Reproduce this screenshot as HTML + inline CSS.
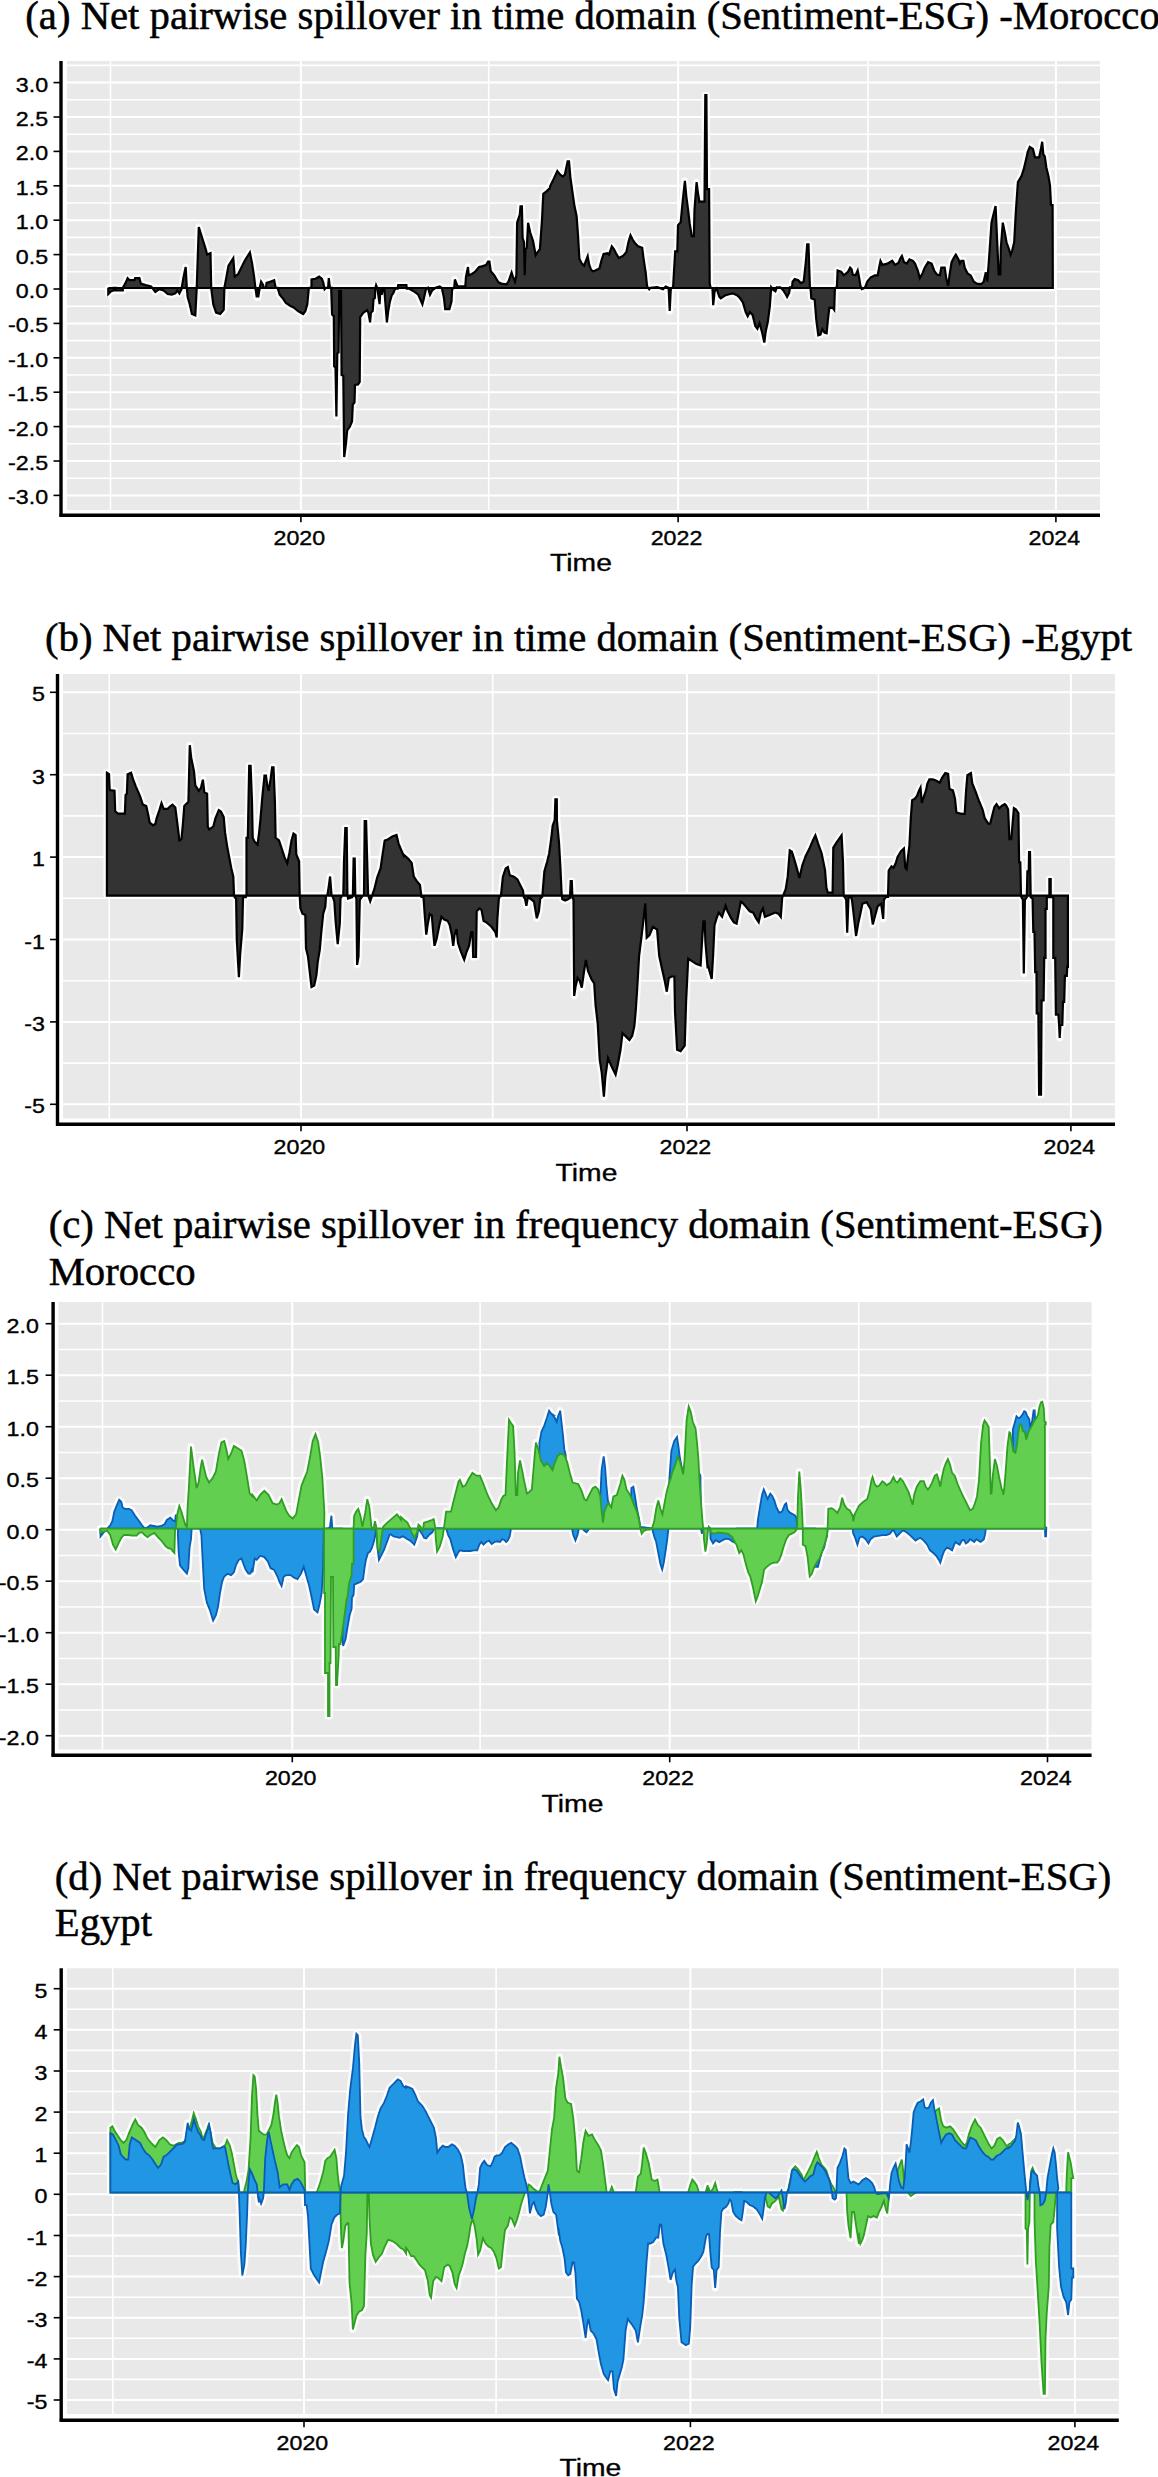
<!DOCTYPE html>
<html><head><meta charset="utf-8"><style>
html,body{margin:0;padding:0;background:#fff;}
svg{display:block;}
.ttl{font-family:"Liberation Serif",serif;font-size:40.7px;fill:#000;stroke:#000;stroke-width:0.5px;}
.tk text{font-family:"Liberation Sans",sans-serif;font-size:20.2px;fill:#000;stroke:#000;stroke-width:0.35px;}
.at{font-family:"Liberation Sans",sans-serif;font-size:24.6px;fill:#000;stroke:#000;stroke-width:0.35px;}
</style></head><body>
<svg width="1158" height="2477" viewBox="0 0 1158 2477">
<rect width="1158" height="2477" fill="#fff"/>
<text x="25.3" y="29" class="ttl">(a) Net pairwise spillover in time domain (Sentiment-ESG) -Morocco</text>
<rect x="67" y="61" width="1033" height="449" fill="#e9e9e9"/>
<g stroke="#fff"><line x1="67" x2="1100" y1="495.4" y2="495.4" stroke-width="2.0"/><line x1="67" x2="1100" y1="478.2" y2="478.2" stroke-width="1.6"/><line x1="67" x2="1100" y1="461" y2="461" stroke-width="2.0"/><line x1="67" x2="1100" y1="443.8" y2="443.8" stroke-width="1.6"/><line x1="67" x2="1100" y1="426.6" y2="426.6" stroke-width="2.0"/><line x1="67" x2="1100" y1="409.4" y2="409.4" stroke-width="1.6"/><line x1="67" x2="1100" y1="392.2" y2="392.2" stroke-width="2.0"/><line x1="67" x2="1100" y1="375" y2="375" stroke-width="1.6"/><line x1="67" x2="1100" y1="357.8" y2="357.8" stroke-width="2.0"/><line x1="67" x2="1100" y1="340.6" y2="340.6" stroke-width="1.6"/><line x1="67" x2="1100" y1="323.4" y2="323.4" stroke-width="2.0"/><line x1="67" x2="1100" y1="306.2" y2="306.2" stroke-width="1.6"/><line x1="67" x2="1100" y1="289" y2="289" stroke-width="2.0"/><line x1="67" x2="1100" y1="271.8" y2="271.8" stroke-width="1.6"/><line x1="67" x2="1100" y1="254.6" y2="254.6" stroke-width="2.0"/><line x1="67" x2="1100" y1="237.4" y2="237.4" stroke-width="1.6"/><line x1="67" x2="1100" y1="220.2" y2="220.2" stroke-width="2.0"/><line x1="67" x2="1100" y1="203" y2="203" stroke-width="1.6"/><line x1="67" x2="1100" y1="185.8" y2="185.8" stroke-width="2.0"/><line x1="67" x2="1100" y1="168.6" y2="168.6" stroke-width="1.6"/><line x1="67" x2="1100" y1="151.4" y2="151.4" stroke-width="2.0"/><line x1="67" x2="1100" y1="134.2" y2="134.2" stroke-width="1.6"/><line x1="67" x2="1100" y1="117" y2="117" stroke-width="2.0"/><line x1="67" x2="1100" y1="99.8" y2="99.8" stroke-width="1.6"/><line x1="67" x2="1100" y1="82.6" y2="82.6" stroke-width="2.0"/><line x1="67" x2="1100" y1="65.4" y2="65.4" stroke-width="1.6"/><line x1="110.5" x2="110.5" y1="61" y2="510" stroke-width="1.6"/><line x1="300.9" x2="300.9" y1="61" y2="510" stroke-width="2.0"/><line x1="488.7" x2="488.7" y1="61" y2="510" stroke-width="1.6"/><line x1="678.1" x2="678.1" y1="61" y2="510" stroke-width="2.0"/><line x1="868" x2="868" y1="61" y2="510" stroke-width="1.6"/><line x1="1055.9" x2="1055.9" y1="61" y2="510" stroke-width="2.0"/></g>
<path d="M108.3,288L108.3,287.8 108.3,294 111.1,291.2 113.8,290.5 113.8,287.8 115.9,287.8 115.9,290.5 122.8,290.5 122.8,287.8 125.6,282.9 127.6,278.1 129.7,280.2 134.5,280.2 135.2,278.1 139.4,278.1 140.8,283.6 145.6,285 151.1,286.4 153.2,289.2 155.3,291.9 159.4,289.2 163.6,290.5 167.7,294 171.8,294.7 175.3,293.3 177.4,290.5 179.4,293.3 181.5,289.2 183.6,276.7 185.7,267 186.8,287.8 187.7,297.4 189.8,304.4 191.9,314 195.3,315.4 196.7,288.5 198.8,227 202.2,238 205.7,249.1 207.1,254.6 210.5,253.2 211.2,287.8 213.3,304.4 216.1,312.6 220.2,314 223.7,309.9 224.4,287.8 228.5,265.7 233.3,258.1 234.7,276.7 238.2,274 245.1,260.1 249.9,252.5 252,262.9 254.1,276.7 255.4,287.8 256.8,297.4 258.2,289.2 258.2,287.8 258.2,297.4 259.7,287.8 261.1,281.6 263.1,285 263.8,287.8 265.9,287.8 266.6,282.9 270.7,281.6 274.2,280.2 275.6,287.8 277.6,287.8 279.7,294.7 283.2,298.8 285.9,303 290.1,305.7 294.2,307.8 298.4,311.3 303.2,314 305.3,311.3 307.3,304.4 308.7,289.2 309.4,287.8 311.5,287.8 311.5,279.5 315.6,278.8 319.1,276.7 321.8,278.8 323.2,282.2 324.6,289.2 326,287.8 328.1,287.8 328.8,278.1 329.9,287.8 331.5,287.8 331.2,288.6 332.1,314.5 333.8,316.3 334.2,366.4 335.5,367.2 336.4,416.4 337.3,353.4 338.6,352.5 339.2,291.2 341,291.2 341.6,375 343.3,375.9 344.2,457 345.9,444.1 347.2,430.3 349.8,426.8 352,421.6 352.8,404.4 354.5,402.6 355,384.9 358,384.5 359.7,381.9 360.2,317.1 363.2,312.8 367.1,310.2 368.4,312.8 370.1,322.3 370.9,312.8 372.7,311.1 373.5,299 374.8,298.1 375.3,288.6 376.1,285.2 377.4,288.6 379.6,304.2 380.4,288.6 381.7,294.7 383,288.6 384.3,288.6 385.6,305.9 386.9,322.3 388.2,311.1 389.9,301.6 391.7,295.5 393.4,293 395.1,288.6 397.7,288.6 398.2,285.2 406.4,285.2 406.8,288.6 408.9,288.6 415,292.1 418.3,294.7 422.4,304.4 423.8,298.8 425.9,289.2 428,287.8 430,294.7 432.1,290.5 435.6,287.8 439.7,286.4 441.8,287.8 443.9,297.4 445.2,309.2 449.4,309.2 451.5,301.6 452.1,289.2 454.2,287.8 454.9,279.5 457,285 457.7,286.4 465.3,286.4 466,276.7 468,267 468.7,275.3 470.8,274.6 474.9,271.9 479.1,267 481.8,266.4 486,265 488.1,261.5 489.4,261.5 490.8,271.2 494.3,275.3 498.4,282.2 501.2,283.6 506.7,284.3 508.8,280.9 510.2,276.7 511.6,272.6 512.9,276.7 515,281.6 516.4,275.3 517.1,222.8 519.8,214.5 520.5,206.3 521.9,206.3 522.6,238 524,242.2 524.7,275.3 525.4,249.1 526.8,247.7 528.1,222.8 530.2,232.5 533,240.8 535.7,255.3 537.8,251.8 539.9,249.1 542,220.1 543.3,193.8 546.8,191.1 549.6,188.3 549.7,188.4 550.4,185.6 553.8,178.7 557.3,171.1 560,174.5 562.8,176.6 564.9,174.5 567.6,161.4 569,161.4 570.4,177.3 572.5,192.5 574.5,206.3 576.6,216 578,235.3 579.4,258.8 581.5,263 584.2,265.7 585.6,261.6 587.7,256.1 589.1,264.4 591.1,269.9 593.2,271.3 595.3,270.6 599.4,268.5 601.5,260.2 603.6,254 607.7,253.3 609.1,254.7 611.8,246.4 613.9,249.2 616,253.3 618.8,258.1 622.9,256.1 626.4,251.9 628.4,242.2 630.5,235.3 632.6,239.5 635.3,243.6 638.1,246.4 642.2,247.8 643.6,258.8 645.7,272.6 647.1,286.5 649.2,289.2 650.5,287.8 657.4,287.2 663,289.2 665.7,286.5 668.5,287.8 668.6,287.3 669.7,311 670.8,288.6 673.1,287.3 673.8,274.8 675.2,251.3 677.3,251.3 678,225.1 680.7,222.3 682.8,200.2 684.9,180.9 686.3,196.1 688.3,211.3 689.7,223.7 691.8,236.1 693.9,236.1 694.5,209.9 696.6,182.2 698,193.3 699.4,201.6 704.5,201.6 705.3,95.2 706.4,95.2 707,189.2 709.1,189.2 709.7,283.1 710.4,287.3 712.5,288.6 713.2,305.2 714.6,291.4 716.6,288.6 719.4,296.9 720.8,298.3 724.9,295.5 729.1,294.2 733.2,293.5 737.4,295.5 740.1,298.3 742.9,302.5 745.7,312.1 747.7,316.3 749.8,312.1 752.6,314.9 755.3,325.9 757.4,328.7 759.5,323.2 762.2,332.8 764.3,342.5 765.7,331.5 767.8,321.8 769.8,306.6 771.2,287.3 773.3,290 775.4,291.4 776.8,287.3 780.2,287.3 783,290 785.7,294.2 787.1,296.9 789.2,292.8 789.9,287.3 792,287.3 792.6,281.7 794.7,279 798.2,280.3 800.9,283.1 803.7,281.7 805.8,262.4 807.2,244.4 808.5,244.4 809.2,266.5 809.9,287.3 810.6,288.6 811.3,298.3 814.7,299.7 816.2,318.8 818.3,335.4 820.4,334.7 822.4,329.2 824.5,332.6 826.6,333.3 828,318.8 829.3,307.8 832.8,307.8 834.2,309.8 834.9,288.4 836.9,287 837.6,270.5 841.1,271.8 843.9,275.3 848,271.8 850.1,267.7 851.5,269.1 852.8,274.6 855.6,275.3 857.7,270.5 859.1,277.4 860.4,285.7 861.8,289.1 863.9,288.4 865.3,287 867.3,281.5 870.8,277.4 874.9,275.3 877.7,275.3 879.1,267.7 880.5,260.8 882.5,264.9 887.4,263.6 892.2,260.8 895,264.9 898.4,262.9 900.5,258 901.9,256 904,262.2 906.7,263.6 909.5,259.4 912.9,260.8 915,263.6 917.8,270.5 919.8,278.1 922.6,273.2 924.7,267.7 928.1,262.2 931.6,263.6 934.4,271.2 937.1,274.6 939.9,275.3 941.3,267.7 944.7,267.7 946.1,277.4 948.2,285.7 949.6,274.6 951.6,262.2 953.7,258 955.8,254.6 958.5,259.4 959.9,263.6 961.3,260.8 963.4,260.8 964.7,267.7 967.5,273.2 967.5,273.4 970.7,275.4 973.8,281.7 976.9,283.7 981.1,284.2 983.7,281.7 985.8,272.3 987.3,281.7 989.4,253.7 991.5,222.6 993.5,214.3 995.6,206 997.2,242.3 998.7,274.4 1000.3,274.4 1000.8,248.5 1002.8,222.6 1004.9,233 1006.5,242.3 1009.1,249.5 1010.6,254.7 1012.2,250.6 1014.2,242.3 1015.8,212.2 1017.9,182.2 1019.4,179.6 1021.5,176 1023.6,169.7 1025.6,161.5 1027.7,152.1 1029.8,146.9 1032.9,149 1035,157.3 1039.1,157.3 1040.7,150.1 1042.2,141.8 1043.3,154.2 1044.8,156.3 1046.4,167.7 1048.4,176 1050,185.3 1051,205 1052.6,205 1052.8,284.8 1052.8,288Z" fill="none" stroke="#fff" stroke-width="7" stroke-linejoin="round" opacity="0.85"/><path d="M108.3,288L108.3,287.8 108.3,294 111.1,291.2 113.8,290.5 113.8,287.8 115.9,287.8 115.9,290.5 122.8,290.5 122.8,287.8 125.6,282.9 127.6,278.1 129.7,280.2 134.5,280.2 135.2,278.1 139.4,278.1 140.8,283.6 145.6,285 151.1,286.4 153.2,289.2 155.3,291.9 159.4,289.2 163.6,290.5 167.7,294 171.8,294.7 175.3,293.3 177.4,290.5 179.4,293.3 181.5,289.2 183.6,276.7 185.7,267 186.8,287.8 187.7,297.4 189.8,304.4 191.9,314 195.3,315.4 196.7,288.5 198.8,227 202.2,238 205.7,249.1 207.1,254.6 210.5,253.2 211.2,287.8 213.3,304.4 216.1,312.6 220.2,314 223.7,309.9 224.4,287.8 228.5,265.7 233.3,258.1 234.7,276.7 238.2,274 245.1,260.1 249.9,252.5 252,262.9 254.1,276.7 255.4,287.8 256.8,297.4 258.2,289.2 258.2,287.8 258.2,297.4 259.7,287.8 261.1,281.6 263.1,285 263.8,287.8 265.9,287.8 266.6,282.9 270.7,281.6 274.2,280.2 275.6,287.8 277.6,287.8 279.7,294.7 283.2,298.8 285.9,303 290.1,305.7 294.2,307.8 298.4,311.3 303.2,314 305.3,311.3 307.3,304.4 308.7,289.2 309.4,287.8 311.5,287.8 311.5,279.5 315.6,278.8 319.1,276.7 321.8,278.8 323.2,282.2 324.6,289.2 326,287.8 328.1,287.8 328.8,278.1 329.9,287.8 331.5,287.8 331.2,288.6 332.1,314.5 333.8,316.3 334.2,366.4 335.5,367.2 336.4,416.4 337.3,353.4 338.6,352.5 339.2,291.2 341,291.2 341.6,375 343.3,375.9 344.2,457 345.9,444.1 347.2,430.3 349.8,426.8 352,421.6 352.8,404.4 354.5,402.6 355,384.9 358,384.5 359.7,381.9 360.2,317.1 363.2,312.8 367.1,310.2 368.4,312.8 370.1,322.3 370.9,312.8 372.7,311.1 373.5,299 374.8,298.1 375.3,288.6 376.1,285.2 377.4,288.6 379.6,304.2 380.4,288.6 381.7,294.7 383,288.6 384.3,288.6 385.6,305.9 386.9,322.3 388.2,311.1 389.9,301.6 391.7,295.5 393.4,293 395.1,288.6 397.7,288.6 398.2,285.2 406.4,285.2 406.8,288.6 408.9,288.6 415,292.1 418.3,294.7 422.4,304.4 423.8,298.8 425.9,289.2 428,287.8 430,294.7 432.1,290.5 435.6,287.8 439.7,286.4 441.8,287.8 443.9,297.4 445.2,309.2 449.4,309.2 451.5,301.6 452.1,289.2 454.2,287.8 454.9,279.5 457,285 457.7,286.4 465.3,286.4 466,276.7 468,267 468.7,275.3 470.8,274.6 474.9,271.9 479.1,267 481.8,266.4 486,265 488.1,261.5 489.4,261.5 490.8,271.2 494.3,275.3 498.4,282.2 501.2,283.6 506.7,284.3 508.8,280.9 510.2,276.7 511.6,272.6 512.9,276.7 515,281.6 516.4,275.3 517.1,222.8 519.8,214.5 520.5,206.3 521.9,206.3 522.6,238 524,242.2 524.7,275.3 525.4,249.1 526.8,247.7 528.1,222.8 530.2,232.5 533,240.8 535.7,255.3 537.8,251.8 539.9,249.1 542,220.1 543.3,193.8 546.8,191.1 549.6,188.3 549.7,188.4 550.4,185.6 553.8,178.7 557.3,171.1 560,174.5 562.8,176.6 564.9,174.5 567.6,161.4 569,161.4 570.4,177.3 572.5,192.5 574.5,206.3 576.6,216 578,235.3 579.4,258.8 581.5,263 584.2,265.7 585.6,261.6 587.7,256.1 589.1,264.4 591.1,269.9 593.2,271.3 595.3,270.6 599.4,268.5 601.5,260.2 603.6,254 607.7,253.3 609.1,254.7 611.8,246.4 613.9,249.2 616,253.3 618.8,258.1 622.9,256.1 626.4,251.9 628.4,242.2 630.5,235.3 632.6,239.5 635.3,243.6 638.1,246.4 642.2,247.8 643.6,258.8 645.7,272.6 647.1,286.5 649.2,289.2 650.5,287.8 657.4,287.2 663,289.2 665.7,286.5 668.5,287.8 668.6,287.3 669.7,311 670.8,288.6 673.1,287.3 673.8,274.8 675.2,251.3 677.3,251.3 678,225.1 680.7,222.3 682.8,200.2 684.9,180.9 686.3,196.1 688.3,211.3 689.7,223.7 691.8,236.1 693.9,236.1 694.5,209.9 696.6,182.2 698,193.3 699.4,201.6 704.5,201.6 705.3,95.2 706.4,95.2 707,189.2 709.1,189.2 709.7,283.1 710.4,287.3 712.5,288.6 713.2,305.2 714.6,291.4 716.6,288.6 719.4,296.9 720.8,298.3 724.9,295.5 729.1,294.2 733.2,293.5 737.4,295.5 740.1,298.3 742.9,302.5 745.7,312.1 747.7,316.3 749.8,312.1 752.6,314.9 755.3,325.9 757.4,328.7 759.5,323.2 762.2,332.8 764.3,342.5 765.7,331.5 767.8,321.8 769.8,306.6 771.2,287.3 773.3,290 775.4,291.4 776.8,287.3 780.2,287.3 783,290 785.7,294.2 787.1,296.9 789.2,292.8 789.9,287.3 792,287.3 792.6,281.7 794.7,279 798.2,280.3 800.9,283.1 803.7,281.7 805.8,262.4 807.2,244.4 808.5,244.4 809.2,266.5 809.9,287.3 810.6,288.6 811.3,298.3 814.7,299.7 816.2,318.8 818.3,335.4 820.4,334.7 822.4,329.2 824.5,332.6 826.6,333.3 828,318.8 829.3,307.8 832.8,307.8 834.2,309.8 834.9,288.4 836.9,287 837.6,270.5 841.1,271.8 843.9,275.3 848,271.8 850.1,267.7 851.5,269.1 852.8,274.6 855.6,275.3 857.7,270.5 859.1,277.4 860.4,285.7 861.8,289.1 863.9,288.4 865.3,287 867.3,281.5 870.8,277.4 874.9,275.3 877.7,275.3 879.1,267.7 880.5,260.8 882.5,264.9 887.4,263.6 892.2,260.8 895,264.9 898.4,262.9 900.5,258 901.9,256 904,262.2 906.7,263.6 909.5,259.4 912.9,260.8 915,263.6 917.8,270.5 919.8,278.1 922.6,273.2 924.7,267.7 928.1,262.2 931.6,263.6 934.4,271.2 937.1,274.6 939.9,275.3 941.3,267.7 944.7,267.7 946.1,277.4 948.2,285.7 949.6,274.6 951.6,262.2 953.7,258 955.8,254.6 958.5,259.4 959.9,263.6 961.3,260.8 963.4,260.8 964.7,267.7 967.5,273.2 967.5,273.4 970.7,275.4 973.8,281.7 976.9,283.7 981.1,284.2 983.7,281.7 985.8,272.3 987.3,281.7 989.4,253.7 991.5,222.6 993.5,214.3 995.6,206 997.2,242.3 998.7,274.4 1000.3,274.4 1000.8,248.5 1002.8,222.6 1004.9,233 1006.5,242.3 1009.1,249.5 1010.6,254.7 1012.2,250.6 1014.2,242.3 1015.8,212.2 1017.9,182.2 1019.4,179.6 1021.5,176 1023.6,169.7 1025.6,161.5 1027.7,152.1 1029.8,146.9 1032.9,149 1035,157.3 1039.1,157.3 1040.7,150.1 1042.2,141.8 1043.3,154.2 1044.8,156.3 1046.4,167.7 1048.4,176 1050,185.3 1051,205 1052.6,205 1052.8,284.8 1052.8,288Z" fill="#333" stroke="#000" stroke-width="2.2" stroke-linejoin="miter"/>
<g stroke="#000" stroke-width="3.4"><line x1="61" x2="61" y1="61" y2="516.8"/><line x1="59.5" x2="1100" y1="515.3" y2="515.3"/></g>
<g stroke="#000" stroke-width="1.6"><line x1="53.5" x2="61" y1="82.6" y2="82.6"/><line x1="53.5" x2="61" y1="117" y2="117"/><line x1="53.5" x2="61" y1="151.4" y2="151.4"/><line x1="53.5" x2="61" y1="185.8" y2="185.8"/><line x1="53.5" x2="61" y1="220.2" y2="220.2"/><line x1="53.5" x2="61" y1="254.6" y2="254.6"/><line x1="53.5" x2="61" y1="289" y2="289"/><line x1="53.5" x2="61" y1="323.4" y2="323.4"/><line x1="53.5" x2="61" y1="357.8" y2="357.8"/><line x1="53.5" x2="61" y1="392.2" y2="392.2"/><line x1="53.5" x2="61" y1="426.6" y2="426.6"/><line x1="53.5" x2="61" y1="461" y2="461"/><line x1="53.5" x2="61" y1="495.4" y2="495.4"/><line x1="300.9" x2="300.9" y1="515.3" y2="522.3"/><line x1="678.1" x2="678.1" y1="515.3" y2="522.3"/><line x1="1055.9" x2="1055.9" y1="515.3" y2="522.3"/></g>
<g class="tk"><text transform="translate(48.1,91.6) scale(1.15,1)" text-anchor="end">3.0</text><text transform="translate(48.1,126) scale(1.15,1)" text-anchor="end">2.5</text><text transform="translate(48.1,160.4) scale(1.15,1)" text-anchor="end">2.0</text><text transform="translate(48.1,194.8) scale(1.15,1)" text-anchor="end">1.5</text><text transform="translate(48.1,229.2) scale(1.15,1)" text-anchor="end">1.0</text><text transform="translate(48.1,263.6) scale(1.15,1)" text-anchor="end">0.5</text><text transform="translate(48.1,298) scale(1.15,1)" text-anchor="end">0.0</text><text transform="translate(48.1,332.4) scale(1.15,1)" text-anchor="end">-0.5</text><text transform="translate(48.1,366.8) scale(1.15,1)" text-anchor="end">-1.0</text><text transform="translate(48.1,401.2) scale(1.15,1)" text-anchor="end">-1.5</text><text transform="translate(48.1,435.6) scale(1.15,1)" text-anchor="end">-2.0</text><text transform="translate(48.1,470) scale(1.15,1)" text-anchor="end">-2.5</text><text transform="translate(48.1,504.4) scale(1.15,1)" text-anchor="end">-3.0</text><text transform="translate(299.3,544.6) scale(1.15,1)" text-anchor="middle">2020</text><text transform="translate(676.5,544.6) scale(1.15,1)" text-anchor="middle">2022</text><text transform="translate(1054.3,544.6) scale(1.15,1)" text-anchor="middle">2024</text></g>
<text transform="translate(581,570.8) scale(1.15,1)" text-anchor="middle" class="at">Time</text>
<text x="45" y="651.3" class="ttl">(b) Net pairwise spillover in time domain (Sentiment-ESG) -Egypt</text>
<rect x="63" y="674" width="1052" height="444.5" fill="#e9e9e9"/>
<g stroke="#fff"><line x1="63" x2="1115" y1="1104.3" y2="1104.3" stroke-width="2.0"/><line x1="63" x2="1115" y1="1063.1" y2="1063.1" stroke-width="1.6"/><line x1="63" x2="1115" y1="1021.9" y2="1021.9" stroke-width="2.0"/><line x1="63" x2="1115" y1="980.7" y2="980.7" stroke-width="1.6"/><line x1="63" x2="1115" y1="939.5" y2="939.5" stroke-width="2.0"/><line x1="63" x2="1115" y1="898.3" y2="898.3" stroke-width="1.6"/><line x1="63" x2="1115" y1="857.1" y2="857.1" stroke-width="2.0"/><line x1="63" x2="1115" y1="815.9" y2="815.9" stroke-width="1.6"/><line x1="63" x2="1115" y1="774.7" y2="774.7" stroke-width="2.0"/><line x1="63" x2="1115" y1="733.5" y2="733.5" stroke-width="1.6"/><line x1="63" x2="1115" y1="692.3" y2="692.3" stroke-width="2.0"/><line x1="109.3" x2="109.3" y1="674" y2="1118.5" stroke-width="1.6"/><line x1="301" x2="301" y1="674" y2="1118.5" stroke-width="2.0"/><line x1="492.7" x2="492.7" y1="674" y2="1118.5" stroke-width="1.6"/><line x1="687" x2="687" y1="674" y2="1118.5" stroke-width="2.0"/><line x1="878.5" x2="878.5" y1="674" y2="1118.5" stroke-width="1.6"/><line x1="1070.9" x2="1070.9" y1="674" y2="1118.5" stroke-width="2.0"/></g>
<path d="M106.9,895.6L106.9,895.1 106.9,772.8 109,774.2 109.7,790.1 114.5,790.8 115.2,811.5 118,813.6 124.9,813.6 125.6,794.9 126.9,793.6 127.6,774.2 131.1,772.8 133.2,779.7 135.9,786.6 140.1,796.3 142.8,804.6 146.3,806 148.4,815.7 149.7,822.6 153.2,825.3 155.3,824 156.6,818.4 159.4,810.1 161.5,803.2 163.6,808.8 167.7,808.8 170.5,806 172.5,804.6 175.3,807.4 177.4,824 179.4,840.5 181.5,839.2 182.9,824 184.3,806 188.4,801.8 189.8,745.2 191.2,757.6 194,771.5 195.3,785.3 198.8,790.8 200.9,788 202.9,779.7 204.3,792.2 207.1,793.6 207.8,826.7 209.2,829.5 213.3,826.7 215.4,818.4 218.8,810.1 220.9,811.5 223.7,817 225,832.2 227.1,846.1 229.2,857.1 231.3,868.2 233.3,876.5 234,895.1 234.7,897.2 236.1,898.6 236.8,940 238.9,977.3 240.2,953.8 242.3,929 243,897.2 245.8,897.2 246.5,895.1 246.5,837.8 247.8,837.8 248.5,801.8 249.2,765.9 250.6,765.9 252,801.8 252.7,837.8 254.7,841.9 257.5,844.7 257.5,844.7 259,833.6 260.4,819.8 262.4,796.3 264.5,775.6 265.9,775.6 267.3,785.3 268.7,790.8 270.7,778.4 272.1,767.3 273.5,767.3 274.9,801.8 275.6,837.8 279,840.5 281.8,848.8 284.5,857.1 287.3,863.3 289.4,853 291.5,840.5 293.5,833.6 295.6,835 296.3,854.4 299.1,861.3 299.7,895.1 300.4,908.2 302.5,913.8 305.3,915.1 306,948.3 308,956.6 311.5,987 314.2,985.6 316.3,975.9 317.7,962.1 319.8,949.7 321.2,933.1 323.2,913.8 325.3,906.9 326,895.8 327.4,895.1 328.8,886.1 330.1,876.5 331.5,895.1 332.9,897.2 334.3,901.3 335.7,922.1 337.7,944.2 339.8,923.4 340.5,898.6 341.9,895.8 343.3,895.1 344,861.3 345.3,828.1 346.7,828.1 347.4,895.1 348.1,898.6 352.2,897.2 352.9,895.1 353.6,858.5 354.7,858.5 355.3,895.1 356.4,898.6 357.1,964.9 358.5,956.6 359.8,899.9 362.6,895.8 364,895.1 364.7,821.2 366.1,821.2 367.2,861.3 368.1,895.1 370.2,901.3 372.3,895.1 374.4,888.9 377.1,877.8 380.6,868.2 382.6,854.4 384.7,840.5 388.2,839.2 392.3,836.4 396.5,835 398.5,843.3 401.3,850.2 403.4,855 403.5,854.6 408.3,858.8 411.7,862.9 413.8,876.7 416.6,880.9 420,885 421.4,896.8 423.5,897.4 424.9,916.8 426.3,934.7 427.6,925.1 429.7,914 431.8,915.4 433.2,932 434.5,945.8 436.6,938.9 439.4,925.1 441.5,916.8 444.2,919.6 447.7,920.9 449.7,925.1 451.8,934.7 453.2,945.8 454.6,934.7 456.6,929.2 458,943 460.8,951.3 464.2,959.6 466.3,952.7 469.1,945.8 471.2,932 472.5,932 473.2,956.9 476,956.9 476.7,911.3 479.4,908.5 481.5,909.9 483.6,920.9 486.4,922.3 491.2,926.5 495.3,932 496.7,937.5 497.4,918.2 498.8,898.8 499.5,896.8 500.9,896.1 502.9,876.7 505.7,868.4 507.8,867 509.8,875.3 514,876.7 517.4,879.5 520.9,886.4 523,890.5 523.7,896.8 525,898.8 526.4,905.7 527.8,897.4 530.6,898.8 534,901.6 536.8,918.2 538.9,911.3 540.2,898.8 542.3,896.8 543,887.8 544.4,871.2 547.2,861.5 549.2,853.2 551.3,838 552.7,825.6 554.7,820.1 555.4,799.3 556.8,799.3 556.9,820.4 559,842.5 560.4,867.4 561.7,895 562.4,899.2 565.2,900.5 568,899.2 570,897.8 570.7,881.2 571.8,881.2 572.4,897.8 573.5,899.2 574.2,995.9 575.6,986.2 577.6,977.9 579.7,980.7 581.8,987.6 583.9,972.4 585.9,959.9 588,971 591.5,979.3 594.2,983.4 595.6,1005.5 597.7,1023.5 599.7,1059.4 601.8,1073.2 603.9,1096.7 605.3,1077.4 608,1058 611.5,1066.3 615.6,1074.6 617.7,1065 620.5,1049.8 622.5,1033.2 625.3,1035.9 629.4,1040.1 632.2,1035.9 634.3,1026.3 635.7,1011.1 637,991.7 639.1,955.8 641.2,939.2 643.3,921.3 645.3,903.3 646.7,937.8 649.5,935.1 652.9,926.8 657.1,929.6 659.2,955.8 661.9,968.2 664.7,980.7 666.8,991.7 668.8,977.9 671.6,976.5 674.4,976.5 675,1011.1 677.1,1049.8 680.6,1051.1 684.7,1045.6 686.1,1001.4 688.2,958.6 692.3,961.3 696.5,964.1 700.6,965.5 702,942 703.4,921.3 704.7,921.3 705.4,942 707.5,966.9 708.3,966.5 711.7,979 713.1,955.5 714.5,925.1 716.6,918.2 718.7,912.6 722.1,916.8 725.6,905.7 727.6,911.3 731.1,918.2 733.9,922.3 736.6,923.7 738.7,912.6 740.8,901.6 742.8,903 746.3,907.1 749.7,911.3 753.2,912.6 756,918.2 758.7,922.3 760.8,912.6 762.9,908.5 764.9,916.8 768.4,915.4 771.8,914 775.3,912.6 778.8,914 780.8,916.8 782.2,897.4 782.9,896.1 785.7,889.2 787.7,876.7 789.8,850.5 791.9,851.8 795.3,862.9 799.5,878.1 802.2,865.7 805.7,856 809.2,849.1 813.3,839.4 815.4,835.3 818.1,843.6 821.6,853.2 825,869.8 826.4,887.8 827.8,892.6 832.6,892.6 833.3,847.7 836.8,842.2 841.6,835.3 843,862.9 843.7,896.1 845.1,897.4 846.2,900.2 847.2,932.7 848.5,897.4 851.3,897.4 852,900.2 854.1,918.2 856.1,936.1 856.1,935.5 858.3,923 860.4,913.4 862.4,903.7 866.6,902.3 870.7,909.2 872.8,924.4 874.2,918.9 877.6,906.5 881.1,903.7 883.2,918.9 883.9,899.6 885.2,898.2 885.9,896.8 888,896.8 888.7,870.5 891.5,866.4 893.5,867.8 895.6,863.6 897.7,856.7 901.1,851.2 903.9,848.4 905.3,867.8 906.6,869.2 908,856.7 909.4,845.7 910.8,818 912.2,800.1 914.9,798.7 917,795.9 919.1,790.4 920.5,787.6 921.8,802.8 923.2,798.7 926,790.4 927.4,783.5 929.4,779.3 932.9,779.3 936.4,780.7 939.8,782.8 941.9,778 945.3,773.1 948.1,773.8 949.5,789 952.9,790.4 955,798.7 956.4,812.5 959.2,813.2 961.9,813.9 964.7,813.9 966.1,790.4 967.4,775.2 970.9,773.1 972.3,783.5 975.7,791.8 979.2,801.5 982.6,809.7 984.7,818 988.2,823.6 990.2,823.6 992.3,815.3 994.4,807 996.5,804.2 999.2,808.4 1002,805.6 1004.7,804.2 1004.7,804.2 1006.1,805.5 1008.1,809.4 1009.4,839.1 1011.3,839.1 1012.6,823.6 1013.9,808.1 1015.8,809.4 1018.4,813.2 1019.1,862.3 1020.3,862.3 1021,896.5 1022.9,899.8 1023.8,973.4 1024.9,899.8 1026.8,897.2 1027.4,871.3 1028.7,871.3 1029.1,852 1030,852 1030.7,897.2 1032.6,898.5 1033.3,932 1034.5,932 1035.2,972.1 1036.5,972.1 1036.7,1013.4 1038.4,1013.4 1039.1,1094.7 1041,1094.7 1041.6,1000.5 1043.6,1000.5 1044.2,957.9 1045.5,957.9 1045.5,908.8 1046.8,908.8 1046.8,897.2 1049.4,897.2 1049.4,879.1 1050.7,879.1 1050.7,897.2 1053.3,897.2 1053.3,957.9 1055.2,957.9 1055.9,1014.7 1058.4,1014.7 1059.1,1025 1059.7,1037.9 1060.4,1025 1062.3,1025 1063,1001.8 1064.2,1001.8 1064.9,975.9 1066.8,975.9 1067.2,966.9 1067.9,966.9 1067.9,897.2 1067.9,895.6Z" fill="none" stroke="#fff" stroke-width="7" stroke-linejoin="round" opacity="0.85"/><path d="M106.9,895.6L106.9,895.1 106.9,772.8 109,774.2 109.7,790.1 114.5,790.8 115.2,811.5 118,813.6 124.9,813.6 125.6,794.9 126.9,793.6 127.6,774.2 131.1,772.8 133.2,779.7 135.9,786.6 140.1,796.3 142.8,804.6 146.3,806 148.4,815.7 149.7,822.6 153.2,825.3 155.3,824 156.6,818.4 159.4,810.1 161.5,803.2 163.6,808.8 167.7,808.8 170.5,806 172.5,804.6 175.3,807.4 177.4,824 179.4,840.5 181.5,839.2 182.9,824 184.3,806 188.4,801.8 189.8,745.2 191.2,757.6 194,771.5 195.3,785.3 198.8,790.8 200.9,788 202.9,779.7 204.3,792.2 207.1,793.6 207.8,826.7 209.2,829.5 213.3,826.7 215.4,818.4 218.8,810.1 220.9,811.5 223.7,817 225,832.2 227.1,846.1 229.2,857.1 231.3,868.2 233.3,876.5 234,895.1 234.7,897.2 236.1,898.6 236.8,940 238.9,977.3 240.2,953.8 242.3,929 243,897.2 245.8,897.2 246.5,895.1 246.5,837.8 247.8,837.8 248.5,801.8 249.2,765.9 250.6,765.9 252,801.8 252.7,837.8 254.7,841.9 257.5,844.7 257.5,844.7 259,833.6 260.4,819.8 262.4,796.3 264.5,775.6 265.9,775.6 267.3,785.3 268.7,790.8 270.7,778.4 272.1,767.3 273.5,767.3 274.9,801.8 275.6,837.8 279,840.5 281.8,848.8 284.5,857.1 287.3,863.3 289.4,853 291.5,840.5 293.5,833.6 295.6,835 296.3,854.4 299.1,861.3 299.7,895.1 300.4,908.2 302.5,913.8 305.3,915.1 306,948.3 308,956.6 311.5,987 314.2,985.6 316.3,975.9 317.7,962.1 319.8,949.7 321.2,933.1 323.2,913.8 325.3,906.9 326,895.8 327.4,895.1 328.8,886.1 330.1,876.5 331.5,895.1 332.9,897.2 334.3,901.3 335.7,922.1 337.7,944.2 339.8,923.4 340.5,898.6 341.9,895.8 343.3,895.1 344,861.3 345.3,828.1 346.7,828.1 347.4,895.1 348.1,898.6 352.2,897.2 352.9,895.1 353.6,858.5 354.7,858.5 355.3,895.1 356.4,898.6 357.1,964.9 358.5,956.6 359.8,899.9 362.6,895.8 364,895.1 364.7,821.2 366.1,821.2 367.2,861.3 368.1,895.1 370.2,901.3 372.3,895.1 374.4,888.9 377.1,877.8 380.6,868.2 382.6,854.4 384.7,840.5 388.2,839.2 392.3,836.4 396.5,835 398.5,843.3 401.3,850.2 403.4,855 403.5,854.6 408.3,858.8 411.7,862.9 413.8,876.7 416.6,880.9 420,885 421.4,896.8 423.5,897.4 424.9,916.8 426.3,934.7 427.6,925.1 429.7,914 431.8,915.4 433.2,932 434.5,945.8 436.6,938.9 439.4,925.1 441.5,916.8 444.2,919.6 447.7,920.9 449.7,925.1 451.8,934.7 453.2,945.8 454.6,934.7 456.6,929.2 458,943 460.8,951.3 464.2,959.6 466.3,952.7 469.1,945.8 471.2,932 472.5,932 473.2,956.9 476,956.9 476.7,911.3 479.4,908.5 481.5,909.9 483.6,920.9 486.4,922.3 491.2,926.5 495.3,932 496.7,937.5 497.4,918.2 498.8,898.8 499.5,896.8 500.9,896.1 502.9,876.7 505.7,868.4 507.8,867 509.8,875.3 514,876.7 517.4,879.5 520.9,886.4 523,890.5 523.7,896.8 525,898.8 526.4,905.7 527.8,897.4 530.6,898.8 534,901.6 536.8,918.2 538.9,911.3 540.2,898.8 542.3,896.8 543,887.8 544.4,871.2 547.2,861.5 549.2,853.2 551.3,838 552.7,825.6 554.7,820.1 555.4,799.3 556.8,799.3 556.9,820.4 559,842.5 560.4,867.4 561.7,895 562.4,899.2 565.2,900.5 568,899.2 570,897.8 570.7,881.2 571.8,881.2 572.4,897.8 573.5,899.2 574.2,995.9 575.6,986.2 577.6,977.9 579.7,980.7 581.8,987.6 583.9,972.4 585.9,959.9 588,971 591.5,979.3 594.2,983.4 595.6,1005.5 597.7,1023.5 599.7,1059.4 601.8,1073.2 603.9,1096.7 605.3,1077.4 608,1058 611.5,1066.3 615.6,1074.6 617.7,1065 620.5,1049.8 622.5,1033.2 625.3,1035.9 629.4,1040.1 632.2,1035.9 634.3,1026.3 635.7,1011.1 637,991.7 639.1,955.8 641.2,939.2 643.3,921.3 645.3,903.3 646.7,937.8 649.5,935.1 652.9,926.8 657.1,929.6 659.2,955.8 661.9,968.2 664.7,980.7 666.8,991.7 668.8,977.9 671.6,976.5 674.4,976.5 675,1011.1 677.1,1049.8 680.6,1051.1 684.7,1045.6 686.1,1001.4 688.2,958.6 692.3,961.3 696.5,964.1 700.6,965.5 702,942 703.4,921.3 704.7,921.3 705.4,942 707.5,966.9 708.3,966.5 711.7,979 713.1,955.5 714.5,925.1 716.6,918.2 718.7,912.6 722.1,916.8 725.6,905.7 727.6,911.3 731.1,918.2 733.9,922.3 736.6,923.7 738.7,912.6 740.8,901.6 742.8,903 746.3,907.1 749.7,911.3 753.2,912.6 756,918.2 758.7,922.3 760.8,912.6 762.9,908.5 764.9,916.8 768.4,915.4 771.8,914 775.3,912.6 778.8,914 780.8,916.8 782.2,897.4 782.9,896.1 785.7,889.2 787.7,876.7 789.8,850.5 791.9,851.8 795.3,862.9 799.5,878.1 802.2,865.7 805.7,856 809.2,849.1 813.3,839.4 815.4,835.3 818.1,843.6 821.6,853.2 825,869.8 826.4,887.8 827.8,892.6 832.6,892.6 833.3,847.7 836.8,842.2 841.6,835.3 843,862.9 843.7,896.1 845.1,897.4 846.2,900.2 847.2,932.7 848.5,897.4 851.3,897.4 852,900.2 854.1,918.2 856.1,936.1 856.1,935.5 858.3,923 860.4,913.4 862.4,903.7 866.6,902.3 870.7,909.2 872.8,924.4 874.2,918.9 877.6,906.5 881.1,903.7 883.2,918.9 883.9,899.6 885.2,898.2 885.9,896.8 888,896.8 888.7,870.5 891.5,866.4 893.5,867.8 895.6,863.6 897.7,856.7 901.1,851.2 903.9,848.4 905.3,867.8 906.6,869.2 908,856.7 909.4,845.7 910.8,818 912.2,800.1 914.9,798.7 917,795.9 919.1,790.4 920.5,787.6 921.8,802.8 923.2,798.7 926,790.4 927.4,783.5 929.4,779.3 932.9,779.3 936.4,780.7 939.8,782.8 941.9,778 945.3,773.1 948.1,773.8 949.5,789 952.9,790.4 955,798.7 956.4,812.5 959.2,813.2 961.9,813.9 964.7,813.9 966.1,790.4 967.4,775.2 970.9,773.1 972.3,783.5 975.7,791.8 979.2,801.5 982.6,809.7 984.7,818 988.2,823.6 990.2,823.6 992.3,815.3 994.4,807 996.5,804.2 999.2,808.4 1002,805.6 1004.7,804.2 1004.7,804.2 1006.1,805.5 1008.1,809.4 1009.4,839.1 1011.3,839.1 1012.6,823.6 1013.9,808.1 1015.8,809.4 1018.4,813.2 1019.1,862.3 1020.3,862.3 1021,896.5 1022.9,899.8 1023.8,973.4 1024.9,899.8 1026.8,897.2 1027.4,871.3 1028.7,871.3 1029.1,852 1030,852 1030.7,897.2 1032.6,898.5 1033.3,932 1034.5,932 1035.2,972.1 1036.5,972.1 1036.7,1013.4 1038.4,1013.4 1039.1,1094.7 1041,1094.7 1041.6,1000.5 1043.6,1000.5 1044.2,957.9 1045.5,957.9 1045.5,908.8 1046.8,908.8 1046.8,897.2 1049.4,897.2 1049.4,879.1 1050.7,879.1 1050.7,897.2 1053.3,897.2 1053.3,957.9 1055.2,957.9 1055.9,1014.7 1058.4,1014.7 1059.1,1025 1059.7,1037.9 1060.4,1025 1062.3,1025 1063,1001.8 1064.2,1001.8 1064.9,975.9 1066.8,975.9 1067.2,966.9 1067.9,966.9 1067.9,897.2 1067.9,895.6Z" fill="#333" stroke="#000" stroke-width="2.2"/>
<g stroke="#000" stroke-width="3.4"><line x1="57.5" x2="57.5" y1="674" y2="1125.8"/><line x1="56" x2="1115" y1="1124.3" y2="1124.3"/></g>
<g stroke="#000" stroke-width="1.6"><line x1="50" x2="57.5" y1="692.3" y2="692.3"/><line x1="50" x2="57.5" y1="774.7" y2="774.7"/><line x1="50" x2="57.5" y1="857.1" y2="857.1"/><line x1="50" x2="57.5" y1="939.5" y2="939.5"/><line x1="50" x2="57.5" y1="1021.9" y2="1021.9"/><line x1="50" x2="57.5" y1="1104.3" y2="1104.3"/><line x1="301" x2="301" y1="1124.3" y2="1131.3"/><line x1="687" x2="687" y1="1124.3" y2="1131.3"/><line x1="1070.9" x2="1070.9" y1="1124.3" y2="1131.3"/></g>
<g class="tk"><text transform="translate(45,701.3) scale(1.15,1)" text-anchor="end">5</text><text transform="translate(45,783.7) scale(1.15,1)" text-anchor="end">3</text><text transform="translate(45,866.1) scale(1.15,1)" text-anchor="end">1</text><text transform="translate(45,948.5) scale(1.15,1)" text-anchor="end">-1</text><text transform="translate(45,1030.9) scale(1.15,1)" text-anchor="end">-3</text><text transform="translate(45,1113.3) scale(1.15,1)" text-anchor="end">-5</text><text transform="translate(299.4,1154) scale(1.15,1)" text-anchor="middle">2020</text><text transform="translate(685.4,1154) scale(1.15,1)" text-anchor="middle">2022</text><text transform="translate(1069.3,1154) scale(1.15,1)" text-anchor="middle">2024</text></g>
<text transform="translate(586.5,1181.2) scale(1.15,1)" text-anchor="middle" class="at">Time</text>
<text x="48.7" y="1238" class="ttl">(c) Net pairwise spillover in frequency domain (Sentiment-ESG)</text>
<text x="48.7" y="1285" class="ttl">Morocco</text>
<rect x="58.4" y="1302" width="1033.2" height="447.5" fill="#e9e9e9"/>
<g stroke="#fff"><line x1="58.4" x2="1091.6" y1="1735.7" y2="1735.7" stroke-width="2.0"/><line x1="58.4" x2="1091.6" y1="1710" y2="1710" stroke-width="1.6"/><line x1="58.4" x2="1091.6" y1="1684.2" y2="1684.2" stroke-width="2.0"/><line x1="58.4" x2="1091.6" y1="1658.5" y2="1658.5" stroke-width="1.6"/><line x1="58.4" x2="1091.6" y1="1632.7" y2="1632.7" stroke-width="2.0"/><line x1="58.4" x2="1091.6" y1="1607" y2="1607" stroke-width="1.6"/><line x1="58.4" x2="1091.6" y1="1581.2" y2="1581.2" stroke-width="2.0"/><line x1="58.4" x2="1091.6" y1="1555.5" y2="1555.5" stroke-width="1.6"/><line x1="58.4" x2="1091.6" y1="1529.7" y2="1529.7" stroke-width="2.0"/><line x1="58.4" x2="1091.6" y1="1504" y2="1504" stroke-width="1.6"/><line x1="58.4" x2="1091.6" y1="1478.2" y2="1478.2" stroke-width="2.0"/><line x1="58.4" x2="1091.6" y1="1452.5" y2="1452.5" stroke-width="1.6"/><line x1="58.4" x2="1091.6" y1="1426.7" y2="1426.7" stroke-width="2.0"/><line x1="58.4" x2="1091.6" y1="1401" y2="1401" stroke-width="1.6"/><line x1="58.4" x2="1091.6" y1="1375.2" y2="1375.2" stroke-width="2.0"/><line x1="58.4" x2="1091.6" y1="1349.5" y2="1349.5" stroke-width="1.6"/><line x1="58.4" x2="1091.6" y1="1323.7" y2="1323.7" stroke-width="2.0"/><line x1="102.5" x2="102.5" y1="1302" y2="1749.5" stroke-width="1.6"/><line x1="292.3" x2="292.3" y1="1302" y2="1749.5" stroke-width="2.0"/><line x1="480.1" x2="480.1" y1="1302" y2="1749.5" stroke-width="1.6"/><line x1="669.7" x2="669.7" y1="1302" y2="1749.5" stroke-width="2.0"/><line x1="858.7" x2="858.7" y1="1302" y2="1749.5" stroke-width="1.6"/><line x1="1047.5" x2="1047.5" y1="1302" y2="1749.5" stroke-width="2.0"/></g>
<path d="M100.3,1528.6L100.3,1528.4 100.5,1536.4 103.3,1532.9 107.4,1528.4 110.2,1525.3 112.3,1521.2 114.3,1511.5 117.1,1504.6 119.2,1499.8 121.3,1501.8 122.6,1507.4 124.7,1508.8 128.9,1508.8 131.6,1510.1 135.1,1515.7 139.2,1521.2 142,1525.3 144.7,1528.4 147.5,1527.4 150.3,1525.3 153.7,1526 157.2,1526.7 161.3,1526 164.8,1524 166.8,1519.8 170.3,1517.7 173.1,1520.5 175.1,1521.2 175.8,1514.6 176.8,1528.4 177.9,1528.4 177.9,1535 178.6,1551.6 180,1565.4 183.4,1569.6 186.9,1573.7 188.3,1568.2 189.6,1547.4 191,1539.2 191.7,1528.4 200,1528.4 201.4,1535 202.8,1562.6 204.2,1588.9 206.9,1602.7 209.7,1609.6 213.1,1620.7 215.9,1615.1 218,1606.9 220,1593 222.1,1582 224.2,1576.5 227.6,1573.7 231.1,1575.1 233.9,1572.3 235.9,1565.4 238.7,1559.9 241.5,1558.5 243.5,1564 245.6,1569.6 248.4,1573.7 250.4,1573.7 252.5,1568.2 252.5,1572.3 254.7,1558.5 256.7,1559.9 260.2,1555.7 264.3,1557.1 267.8,1561.3 270.6,1568.2 274,1569.6 277.5,1576.5 279.5,1582 281.6,1586.1 283.7,1576.5 286.5,1575.1 290.6,1575.1 294.1,1577.8 297.5,1579.2 301,1573.7 303.7,1566.8 306.5,1576.5 309.2,1586.1 311.3,1595.8 314.1,1609.6 317.5,1612.4 319.6,1604.1 321.7,1593 323.1,1568.2 323.8,1528.4 328.6,1528.4 330,1526.7 331.4,1515.7 332.3,1528.4 342,1528.5 342.5,1640 343.1,1646 345.5,1639.5 347.6,1626.6 349.6,1615.3 351.6,1608.8 352,1597.5 353.6,1595 354.2,1584.7 354.2,1584.7 356.9,1583.4 360.4,1582 363.1,1579.2 364.5,1568.2 365.9,1559.9 368,1553 370,1551.6 372.1,1547.4 374.2,1540.5 375.6,1533.6 376.3,1528.4 377.6,1548.8 379,1559.9 381.1,1555.7 383.9,1550.2 385.9,1544.7 388,1539.2 389.4,1535 390.8,1534.3 393.5,1536.4 397,1537.1 399.7,1537.8 402.5,1536.4 401.1,1536.5 403.3,1536.5 407.4,1539.2 410.2,1540.6 413,1543.4 414.3,1544.7 415.7,1540.6 417.1,1536.5 418.5,1528.2 419.9,1530.9 421.9,1533.7 424,1537.8 426.1,1538.5 428.9,1535.1 432.3,1532.3 434.4,1528.2 446.1,1528.2 448.2,1535.1 450.3,1539.2 453,1548.9 455.8,1557.2 457.9,1553 459.9,1550.3 463.4,1551 466.8,1551 470.3,1551 473.8,1550.3 477.2,1550.3 479.3,1544.7 481.4,1542 483.4,1544.7 486.2,1542 489,1540.6 491.7,1544.1 494.5,1542 497.2,1541.3 500,1542 502.1,1539.2 504.2,1539.9 506.2,1542 507.6,1540.6 509.7,1536.5 511.1,1528.2 538.7,1528.2 539.4,1442.5 541.5,1431.5 544.2,1425.9 547,1417.6 549.1,1410.7 551.1,1413.5 553.2,1414.9 552.5,1414.9 554.7,1417.6 556.7,1421.8 558.1,1416.3 560.2,1410.7 561.6,1423.2 563,1435.6 564.3,1449.4 565.7,1454.9 567.1,1528.2 571.9,1528.2 573.3,1535.1 575.4,1540.6 577.5,1535.1 578.9,1528.2 582.3,1528.2 584.4,1530.9 586.5,1532.3 588.5,1529.6 589.9,1528.2 599.6,1528.2 600.3,1496.4 601.6,1470.1 603.7,1456.3 605.1,1467.4 606.5,1486.7 607.9,1500.5 609.9,1506.1 611.3,1528.2 630,1528.2 631.4,1488.1 633.4,1486.7 634.8,1495 636.9,1508.8 639,1518.5 640.3,1526.8 652.1,1528.2 654.2,1536.5 656.2,1542 658.3,1553 660.4,1564.1 662.2,1569.6 663.8,1562.7 665.9,1548.9 667.3,1539.2 668.4,1528.2 669.4,1478.4 671.4,1450.8 674.2,1441.1 677,1437 678.3,1445.3 679.7,1456.3 681.8,1467.4 683.2,1474.3 683.9,1528.2 698.4,1528.2 699.1,1472.9 700.4,1475.7 701.1,1528.2 701.8,1533.7 703.2,1528.2 703.8,1528.4 710.2,1528.4 710.5,1538.7 713,1543.4 715.7,1540.1 719.2,1542.1 722.6,1540.1 726.1,1538.7 729.5,1539.4 732.3,1541.5 735.1,1542.7 736.5,1543.4 737.1,1528.4 757.2,1528.4 757.9,1519.8 759.9,1507.4 762,1494.9 763.8,1489.4 765.5,1493.6 767.5,1499.1 770.3,1493.6 772.4,1496.3 774.4,1500.5 776.5,1507.4 779.3,1512.9 782,1511.5 784.8,1504.6 786.2,1503.2 787.6,1510.1 790.3,1512.9 793.1,1514.3 795.2,1515.7 796.6,1518.4 797.2,1528.4 815.2,1528.4 815.9,1566.8 818,1566.8 820,1558.5 822.1,1551.6 824.2,1547.4 825.6,1540.5 827,1536.4 827.6,1528.4 852.5,1528.4 852.5,1528.2 853.3,1533.7 854.7,1536.5 857.4,1544.7 859.5,1537.8 862.3,1536.5 865.7,1539.2 868.5,1543.4 870.6,1539.2 874,1536.5 878.2,1535.8 882.3,1535.1 886.5,1535.1 889.9,1533.7 892,1530.9 893.4,1529.6 894.7,1532.3 896.8,1536.5 899.6,1533.7 902.3,1530.9 904.4,1530.9 906.5,1532.3 909.9,1535.1 912.7,1537.8 915.5,1540.6 917.5,1539.2 920.3,1537.8 923.8,1540.6 927.2,1544.7 930,1550.3 933.4,1553 936.2,1555.8 939,1559.9 940.3,1562.7 942.4,1555.8 944.5,1550.3 947.2,1547.5 950,1548.9 952.1,1550.3 954.2,1544.7 955.5,1542 957.6,1543.4 959.7,1544.7 961.8,1540.6 963.8,1539.9 965.9,1543.4 968,1542 970,1539.2 972.1,1540.6 974.2,1542 976.3,1539.2 978.3,1540.6 980.4,1542 982.5,1540.6 983.9,1539.2 985.2,1533.7 985.9,1528.2 1003.2,1528.2 1003.2,1526.8 1012.5,1526.8 1012.9,1429.4 1015.1,1421.4 1016.5,1416.3 1018,1417.8 1019.8,1417.8 1022.3,1414.9 1024.2,1411.3 1025.6,1412 1027.1,1415.6 1029.3,1419.3 1030.3,1428 1032.2,1420.7 1033.6,1410.5 1034.7,1410.5 1035.1,1419.3 1036.5,1419.3 1037.2,1526.8 1044.9,1526.8 1045.2,1536.3 1046,1536.3 1046.3,1526.8 1046.3,1528.6Z" fill="none" stroke="#fff" stroke-width="7" stroke-linejoin="round" opacity="0.85"/><path d="M100.3,1528.6L100.3,1528.4 100.5,1532.9 103.3,1531.6 107.4,1530.9 110.2,1535 113,1544.7 115.7,1549.5 118.5,1543.3 121.3,1537.8 124,1535 128.2,1535 132.3,1535.7 136.5,1535.7 139.2,1532.9 142,1532.2 144.7,1535 147.5,1537.1 150.3,1535 154.4,1532.9 157.2,1536.4 161.3,1540.5 165.5,1546.1 168.2,1548.1 171,1548.8 173.1,1551.6 174.4,1553 175.1,1528.4 175.8,1528.4 177.2,1514.3 179.3,1506 181.4,1511.5 183.4,1518.4 185.5,1525.3 186.9,1526.7 187.6,1507.4 189,1485.3 191,1446.6 192.4,1457.6 193.8,1468.7 196.6,1488 198.6,1482.5 200.7,1467.3 202.1,1459.7 204.2,1468.7 206.2,1477 209,1482.5 212.4,1478.4 215.9,1471.5 218.7,1454.9 221.4,1442.4 224.2,1441.1 226.3,1449.3 228.3,1459 231.1,1453.5 233.9,1445.9 237.3,1448 241.5,1450.7 244.2,1460.4 247,1477 249.7,1493.6 252.5,1496.3 252.5,1494.9 256.7,1500.5 260.2,1494.9 264.3,1490.8 268.5,1494.9 272.6,1503.2 276.8,1504.6 279.5,1503.2 281.6,1499.1 283.7,1504.6 286.5,1511.5 289.2,1515.7 292.7,1518.4 296.1,1514.3 298.9,1499.1 301.6,1485.3 304.4,1478.4 307.2,1471.5 309.9,1457.6 312.7,1441.1 315.5,1434.1 318.2,1442.4 320.3,1457.6 322.4,1478.4 324.4,1512.9 324.1,1528.5 324.1,1593 325,1593 325,1673 328,1673 328,1716 329.5,1716 329.5,1663 330.5,1663 331,1577 333,1577 333.3,1647 335.7,1647 336,1685 337,1685 338.6,1657 339,1644 340.5,1644 343,1627 345,1612 346.5,1600 347.5,1597 349,1584 351.5,1575 352,1563.6 353.6,1563.6 353.6,1528.5 353.5,1528.4 354.2,1515.7 356.2,1511.5 358.3,1508.8 360.4,1515.7 362.4,1526.7 365.2,1512.9 367.3,1499.1 369.4,1507.4 371.4,1526.7 373.5,1529.5 374.9,1521.2 376.3,1526.7 377.6,1548.8 379.7,1551.6 381.8,1535 383.2,1526.7 387.3,1522.6 392.2,1518.4 397,1514.3 401.1,1519.8 401.1,1517.1 403.3,1519.2 407.4,1522.6 410.2,1528.2 411.6,1532.3 414.3,1537.8 417.1,1532.3 418.5,1524.7 420.6,1526.8 421.9,1529.6 422.6,1532.3 424,1522.6 428.2,1521.3 432.3,1519.9 433.7,1519.2 435.1,1526.8 435.8,1539.2 437.1,1551.7 439.9,1546.1 442.7,1536.5 444.7,1522.6 446.1,1511.6 448.2,1511.6 451,1511.6 453,1503.3 455.8,1492.2 458.6,1481.2 459.9,1479.8 462.7,1486.7 465.5,1485.3 468.2,1479.8 472.4,1472.9 476.5,1475.7 480,1475.7 483.4,1484 487.6,1495 491.7,1503.3 495.9,1510.2 498.6,1507.4 501.4,1499.2 503.5,1495.7 505.5,1495 506.9,1463.2 509,1419.7 511.1,1423.2 513.1,1425.9 514.5,1450.8 515.9,1495 517.3,1495 518,1472.9 520,1460.5 522.1,1470.1 524.2,1481.2 527,1493.6 529,1492.2 531.8,1489.5 533.2,1472.9 534.6,1456.3 535.9,1442.5 537.3,1446.6 538.7,1450.8 540.8,1460.5 544.2,1466 547,1463.2 549.7,1466 552.5,1470.1 552.5,1470.1 554.7,1463.2 557.4,1456.3 560.2,1453.6 564.3,1454.9 567.1,1461.8 569.9,1472.9 572.6,1482.6 578.2,1484 581.6,1490.9 584.4,1499.2 586.5,1500.5 589.2,1495 592.7,1488.1 595.4,1486.7 598.2,1489.5 600.3,1496.4 601.6,1511.6 603,1522.6 604.4,1511.6 606.5,1506.1 608.6,1503.3 611.3,1507.4 613.4,1496.4 616.8,1495 620.3,1484 622.4,1475.7 624.4,1479.8 626.5,1489.5 629.3,1493.6 631.4,1497.8 633.4,1503.3 636.9,1511.6 639,1519.9 640.3,1528.2 641.7,1533.7 643.8,1530.9 647.2,1529.6 650,1529.6 652.1,1528.2 654.2,1521.3 656.2,1508.8 658.3,1500.5 660.4,1508.8 662.4,1514.4 664.5,1503.3 666.6,1492.2 668.7,1484 670.7,1478.4 672.1,1472.9 674.2,1467.4 676.3,1461.8 677.6,1456.3 679.7,1460.5 681.8,1468.8 683.2,1474.3 684.6,1459.1 686.6,1420.4 688.7,1406.6 690.8,1412.1 692.8,1421.8 695.6,1428.7 697,1442.5 698.4,1459.1 699.7,1484 701.1,1503.3 702.5,1521.3 703.9,1535.1 703.8,1537.8 705.4,1551.6 706.7,1543.3 708.1,1529.5 708.8,1526.7 710.2,1528.4 710.9,1532.5 715,1533.9 717.8,1532.5 724,1533.2 728.2,1533.9 732.3,1537.2 735.1,1542.7 736.5,1544.7 739.2,1553 741.3,1550.2 743.4,1554.4 745.4,1562.6 748.2,1572.3 750.3,1576.5 753,1587.5 755.8,1601.3 757.9,1595.8 759.9,1588.9 762,1582 764.1,1569.6 766.8,1566.8 770.3,1564 773.8,1562.6 777.2,1562.6 779.3,1559.9 781.4,1554.4 783.4,1547.4 786.2,1539.2 789,1535 791.7,1533.6 794.5,1532.2 796.6,1529.5 797.2,1526.7 797.9,1499.1 799.3,1471.5 800.7,1488 802.1,1512.9 802.8,1528.4 802.8,1544.7 805.5,1546.1 807.6,1557.1 809.7,1576.5 811.8,1573.7 813.8,1568.2 816.6,1562.6 819.4,1558.5 822.1,1551.6 824.9,1543.3 827,1535 827.6,1528.4 828.3,1508.8 831.8,1508.1 834.6,1510.1 837.3,1512.9 840.1,1507.4 842.2,1497.7 844.2,1504.6 847,1508.8 849.7,1510.1 852.5,1515.7 852.5,1514.4 853.3,1521.3 854.7,1514.4 856.7,1510.2 858.8,1506.1 863,1501.9 867.1,1499.2 869.2,1492.2 871.3,1481.2 872.6,1477 874.7,1484 876.8,1486.7 879.5,1485.3 882.3,1481.2 884.4,1482.6 886.5,1485.3 890.6,1482.6 893.4,1477 895.4,1481.2 897.5,1482.6 900.3,1478.4 903,1481.2 905.8,1486.7 908.6,1492.2 911.3,1500.5 912.7,1504.7 914.1,1495 916.8,1486.7 920.3,1481.2 923.8,1481.2 925.8,1486.7 927.9,1489.5 930,1486.7 932,1482.6 934.8,1475.7 936.9,1474.3 939,1481.2 940.3,1486.7 941.7,1478.4 943.8,1468.8 945.9,1463.2 947.9,1459.1 950,1464.6 952.1,1472.9 954.8,1475.7 957.6,1484 961.1,1492.2 964.5,1499.2 967.3,1504.7 970,1510.2 972.8,1508.8 974.9,1503.3 977,1496.4 979,1479.8 981.1,1442.5 983.2,1424.5 984.6,1420.4 986.6,1423.2 988.7,1427.3 989.4,1448 990.8,1493.6 991.5,1493.6 992.8,1475.7 994.9,1459.1 997,1466 999.1,1477 1001.8,1489.5 1003.2,1492.2 1003.2,1494.8 1004.2,1489 1005.6,1472.3 1007.4,1446.9 1009.3,1432.3 1010.4,1433.1 1011.1,1438.2 1013.3,1451.2 1015.4,1452.7 1016.9,1445.4 1018.3,1432.3 1019.8,1424.3 1021.3,1424.3 1022.7,1430.9 1024.9,1432.3 1026.3,1439.6 1027.8,1433.8 1029.6,1429.4 1030.7,1428 1032.2,1425.1 1034.3,1420.7 1036.5,1417.8 1038,1414.9 1039.4,1406.9 1040.9,1402.5 1042.3,1401.8 1043.8,1408.3 1044.5,1421.4 1045.8,1422.2 1045.8,1424.3 1044.9,1424.3 1044.9,1526.8 1044.9,1528.6Z" fill="none" stroke="#fff" stroke-width="7" stroke-linejoin="round" opacity="0.85"/><path d="M100.3,1528.6L100.3,1528.4 100.5,1536.4 103.3,1532.9 107.4,1528.4 110.2,1525.3 112.3,1521.2 114.3,1511.5 117.1,1504.6 119.2,1499.8 121.3,1501.8 122.6,1507.4 124.7,1508.8 128.9,1508.8 131.6,1510.1 135.1,1515.7 139.2,1521.2 142,1525.3 144.7,1528.4 147.5,1527.4 150.3,1525.3 153.7,1526 157.2,1526.7 161.3,1526 164.8,1524 166.8,1519.8 170.3,1517.7 173.1,1520.5 175.1,1521.2 175.8,1514.6 176.8,1528.4 177.9,1528.4 177.9,1535 178.6,1551.6 180,1565.4 183.4,1569.6 186.9,1573.7 188.3,1568.2 189.6,1547.4 191,1539.2 191.7,1528.4 200,1528.4 201.4,1535 202.8,1562.6 204.2,1588.9 206.9,1602.7 209.7,1609.6 213.1,1620.7 215.9,1615.1 218,1606.9 220,1593 222.1,1582 224.2,1576.5 227.6,1573.7 231.1,1575.1 233.9,1572.3 235.9,1565.4 238.7,1559.9 241.5,1558.5 243.5,1564 245.6,1569.6 248.4,1573.7 250.4,1573.7 252.5,1568.2 252.5,1572.3 254.7,1558.5 256.7,1559.9 260.2,1555.7 264.3,1557.1 267.8,1561.3 270.6,1568.2 274,1569.6 277.5,1576.5 279.5,1582 281.6,1586.1 283.7,1576.5 286.5,1575.1 290.6,1575.1 294.1,1577.8 297.5,1579.2 301,1573.7 303.7,1566.8 306.5,1576.5 309.2,1586.1 311.3,1595.8 314.1,1609.6 317.5,1612.4 319.6,1604.1 321.7,1593 323.1,1568.2 323.8,1528.4 328.6,1528.4 330,1526.7 331.4,1515.7 332.3,1528.4 342,1528.5 342.5,1640 343.1,1646 345.5,1639.5 347.6,1626.6 349.6,1615.3 351.6,1608.8 352,1597.5 353.6,1595 354.2,1584.7 354.2,1584.7 356.9,1583.4 360.4,1582 363.1,1579.2 364.5,1568.2 365.9,1559.9 368,1553 370,1551.6 372.1,1547.4 374.2,1540.5 375.6,1533.6 376.3,1528.4 377.6,1548.8 379,1559.9 381.1,1555.7 383.9,1550.2 385.9,1544.7 388,1539.2 389.4,1535 390.8,1534.3 393.5,1536.4 397,1537.1 399.7,1537.8 402.5,1536.4 401.1,1536.5 403.3,1536.5 407.4,1539.2 410.2,1540.6 413,1543.4 414.3,1544.7 415.7,1540.6 417.1,1536.5 418.5,1528.2 419.9,1530.9 421.9,1533.7 424,1537.8 426.1,1538.5 428.9,1535.1 432.3,1532.3 434.4,1528.2 446.1,1528.2 448.2,1535.1 450.3,1539.2 453,1548.9 455.8,1557.2 457.9,1553 459.9,1550.3 463.4,1551 466.8,1551 470.3,1551 473.8,1550.3 477.2,1550.3 479.3,1544.7 481.4,1542 483.4,1544.7 486.2,1542 489,1540.6 491.7,1544.1 494.5,1542 497.2,1541.3 500,1542 502.1,1539.2 504.2,1539.9 506.2,1542 507.6,1540.6 509.7,1536.5 511.1,1528.2 538.7,1528.2 539.4,1442.5 541.5,1431.5 544.2,1425.9 547,1417.6 549.1,1410.7 551.1,1413.5 553.2,1414.9 552.5,1414.9 554.7,1417.6 556.7,1421.8 558.1,1416.3 560.2,1410.7 561.6,1423.2 563,1435.6 564.3,1449.4 565.7,1454.9 567.1,1528.2 571.9,1528.2 573.3,1535.1 575.4,1540.6 577.5,1535.1 578.9,1528.2 582.3,1528.2 584.4,1530.9 586.5,1532.3 588.5,1529.6 589.9,1528.2 599.6,1528.2 600.3,1496.4 601.6,1470.1 603.7,1456.3 605.1,1467.4 606.5,1486.7 607.9,1500.5 609.9,1506.1 611.3,1528.2 630,1528.2 631.4,1488.1 633.4,1486.7 634.8,1495 636.9,1508.8 639,1518.5 640.3,1526.8 652.1,1528.2 654.2,1536.5 656.2,1542 658.3,1553 660.4,1564.1 662.2,1569.6 663.8,1562.7 665.9,1548.9 667.3,1539.2 668.4,1528.2 669.4,1478.4 671.4,1450.8 674.2,1441.1 677,1437 678.3,1445.3 679.7,1456.3 681.8,1467.4 683.2,1474.3 683.9,1528.2 698.4,1528.2 699.1,1472.9 700.4,1475.7 701.1,1528.2 701.8,1533.7 703.2,1528.2 703.8,1528.4 710.2,1528.4 710.5,1538.7 713,1543.4 715.7,1540.1 719.2,1542.1 722.6,1540.1 726.1,1538.7 729.5,1539.4 732.3,1541.5 735.1,1542.7 736.5,1543.4 737.1,1528.4 757.2,1528.4 757.9,1519.8 759.9,1507.4 762,1494.9 763.8,1489.4 765.5,1493.6 767.5,1499.1 770.3,1493.6 772.4,1496.3 774.4,1500.5 776.5,1507.4 779.3,1512.9 782,1511.5 784.8,1504.6 786.2,1503.2 787.6,1510.1 790.3,1512.9 793.1,1514.3 795.2,1515.7 796.6,1518.4 797.2,1528.4 815.2,1528.4 815.9,1566.8 818,1566.8 820,1558.5 822.1,1551.6 824.2,1547.4 825.6,1540.5 827,1536.4 827.6,1528.4 852.5,1528.4 852.5,1528.2 853.3,1533.7 854.7,1536.5 857.4,1544.7 859.5,1537.8 862.3,1536.5 865.7,1539.2 868.5,1543.4 870.6,1539.2 874,1536.5 878.2,1535.8 882.3,1535.1 886.5,1535.1 889.9,1533.7 892,1530.9 893.4,1529.6 894.7,1532.3 896.8,1536.5 899.6,1533.7 902.3,1530.9 904.4,1530.9 906.5,1532.3 909.9,1535.1 912.7,1537.8 915.5,1540.6 917.5,1539.2 920.3,1537.8 923.8,1540.6 927.2,1544.7 930,1550.3 933.4,1553 936.2,1555.8 939,1559.9 940.3,1562.7 942.4,1555.8 944.5,1550.3 947.2,1547.5 950,1548.9 952.1,1550.3 954.2,1544.7 955.5,1542 957.6,1543.4 959.7,1544.7 961.8,1540.6 963.8,1539.9 965.9,1543.4 968,1542 970,1539.2 972.1,1540.6 974.2,1542 976.3,1539.2 978.3,1540.6 980.4,1542 982.5,1540.6 983.9,1539.2 985.2,1533.7 985.9,1528.2 1003.2,1528.2 1003.2,1526.8 1012.5,1526.8 1012.9,1429.4 1015.1,1421.4 1016.5,1416.3 1018,1417.8 1019.8,1417.8 1022.3,1414.9 1024.2,1411.3 1025.6,1412 1027.1,1415.6 1029.3,1419.3 1030.3,1428 1032.2,1420.7 1033.6,1410.5 1034.7,1410.5 1035.1,1419.3 1036.5,1419.3 1037.2,1526.8 1044.9,1526.8 1045.2,1536.3 1046,1536.3 1046.3,1526.8 1046.3,1528.6Z" fill="#2196e3" stroke="#0b5cb5" stroke-width="1.8"/><path d="M100.3,1528.6L100.3,1528.4 100.5,1532.9 103.3,1531.6 107.4,1530.9 110.2,1535 113,1544.7 115.7,1549.5 118.5,1543.3 121.3,1537.8 124,1535 128.2,1535 132.3,1535.7 136.5,1535.7 139.2,1532.9 142,1532.2 144.7,1535 147.5,1537.1 150.3,1535 154.4,1532.9 157.2,1536.4 161.3,1540.5 165.5,1546.1 168.2,1548.1 171,1548.8 173.1,1551.6 174.4,1553 175.1,1528.4 175.8,1528.4 177.2,1514.3 179.3,1506 181.4,1511.5 183.4,1518.4 185.5,1525.3 186.9,1526.7 187.6,1507.4 189,1485.3 191,1446.6 192.4,1457.6 193.8,1468.7 196.6,1488 198.6,1482.5 200.7,1467.3 202.1,1459.7 204.2,1468.7 206.2,1477 209,1482.5 212.4,1478.4 215.9,1471.5 218.7,1454.9 221.4,1442.4 224.2,1441.1 226.3,1449.3 228.3,1459 231.1,1453.5 233.9,1445.9 237.3,1448 241.5,1450.7 244.2,1460.4 247,1477 249.7,1493.6 252.5,1496.3 252.5,1494.9 256.7,1500.5 260.2,1494.9 264.3,1490.8 268.5,1494.9 272.6,1503.2 276.8,1504.6 279.5,1503.2 281.6,1499.1 283.7,1504.6 286.5,1511.5 289.2,1515.7 292.7,1518.4 296.1,1514.3 298.9,1499.1 301.6,1485.3 304.4,1478.4 307.2,1471.5 309.9,1457.6 312.7,1441.1 315.5,1434.1 318.2,1442.4 320.3,1457.6 322.4,1478.4 324.4,1512.9 324.1,1528.5 324.1,1593 325,1593 325,1673 328,1673 328,1716 329.5,1716 329.5,1663 330.5,1663 331,1577 333,1577 333.3,1647 335.7,1647 336,1685 337,1685 338.6,1657 339,1644 340.5,1644 343,1627 345,1612 346.5,1600 347.5,1597 349,1584 351.5,1575 352,1563.6 353.6,1563.6 353.6,1528.5 353.5,1528.4 354.2,1515.7 356.2,1511.5 358.3,1508.8 360.4,1515.7 362.4,1526.7 365.2,1512.9 367.3,1499.1 369.4,1507.4 371.4,1526.7 373.5,1529.5 374.9,1521.2 376.3,1526.7 377.6,1548.8 379.7,1551.6 381.8,1535 383.2,1526.7 387.3,1522.6 392.2,1518.4 397,1514.3 401.1,1519.8 401.1,1517.1 403.3,1519.2 407.4,1522.6 410.2,1528.2 411.6,1532.3 414.3,1537.8 417.1,1532.3 418.5,1524.7 420.6,1526.8 421.9,1529.6 422.6,1532.3 424,1522.6 428.2,1521.3 432.3,1519.9 433.7,1519.2 435.1,1526.8 435.8,1539.2 437.1,1551.7 439.9,1546.1 442.7,1536.5 444.7,1522.6 446.1,1511.6 448.2,1511.6 451,1511.6 453,1503.3 455.8,1492.2 458.6,1481.2 459.9,1479.8 462.7,1486.7 465.5,1485.3 468.2,1479.8 472.4,1472.9 476.5,1475.7 480,1475.7 483.4,1484 487.6,1495 491.7,1503.3 495.9,1510.2 498.6,1507.4 501.4,1499.2 503.5,1495.7 505.5,1495 506.9,1463.2 509,1419.7 511.1,1423.2 513.1,1425.9 514.5,1450.8 515.9,1495 517.3,1495 518,1472.9 520,1460.5 522.1,1470.1 524.2,1481.2 527,1493.6 529,1492.2 531.8,1489.5 533.2,1472.9 534.6,1456.3 535.9,1442.5 537.3,1446.6 538.7,1450.8 540.8,1460.5 544.2,1466 547,1463.2 549.7,1466 552.5,1470.1 552.5,1470.1 554.7,1463.2 557.4,1456.3 560.2,1453.6 564.3,1454.9 567.1,1461.8 569.9,1472.9 572.6,1482.6 578.2,1484 581.6,1490.9 584.4,1499.2 586.5,1500.5 589.2,1495 592.7,1488.1 595.4,1486.7 598.2,1489.5 600.3,1496.4 601.6,1511.6 603,1522.6 604.4,1511.6 606.5,1506.1 608.6,1503.3 611.3,1507.4 613.4,1496.4 616.8,1495 620.3,1484 622.4,1475.7 624.4,1479.8 626.5,1489.5 629.3,1493.6 631.4,1497.8 633.4,1503.3 636.9,1511.6 639,1519.9 640.3,1528.2 641.7,1533.7 643.8,1530.9 647.2,1529.6 650,1529.6 652.1,1528.2 654.2,1521.3 656.2,1508.8 658.3,1500.5 660.4,1508.8 662.4,1514.4 664.5,1503.3 666.6,1492.2 668.7,1484 670.7,1478.4 672.1,1472.9 674.2,1467.4 676.3,1461.8 677.6,1456.3 679.7,1460.5 681.8,1468.8 683.2,1474.3 684.6,1459.1 686.6,1420.4 688.7,1406.6 690.8,1412.1 692.8,1421.8 695.6,1428.7 697,1442.5 698.4,1459.1 699.7,1484 701.1,1503.3 702.5,1521.3 703.9,1535.1 703.8,1537.8 705.4,1551.6 706.7,1543.3 708.1,1529.5 708.8,1526.7 710.2,1528.4 710.9,1532.5 715,1533.9 717.8,1532.5 724,1533.2 728.2,1533.9 732.3,1537.2 735.1,1542.7 736.5,1544.7 739.2,1553 741.3,1550.2 743.4,1554.4 745.4,1562.6 748.2,1572.3 750.3,1576.5 753,1587.5 755.8,1601.3 757.9,1595.8 759.9,1588.9 762,1582 764.1,1569.6 766.8,1566.8 770.3,1564 773.8,1562.6 777.2,1562.6 779.3,1559.9 781.4,1554.4 783.4,1547.4 786.2,1539.2 789,1535 791.7,1533.6 794.5,1532.2 796.6,1529.5 797.2,1526.7 797.9,1499.1 799.3,1471.5 800.7,1488 802.1,1512.9 802.8,1528.4 802.8,1544.7 805.5,1546.1 807.6,1557.1 809.7,1576.5 811.8,1573.7 813.8,1568.2 816.6,1562.6 819.4,1558.5 822.1,1551.6 824.9,1543.3 827,1535 827.6,1528.4 828.3,1508.8 831.8,1508.1 834.6,1510.1 837.3,1512.9 840.1,1507.4 842.2,1497.7 844.2,1504.6 847,1508.8 849.7,1510.1 852.5,1515.7 852.5,1514.4 853.3,1521.3 854.7,1514.4 856.7,1510.2 858.8,1506.1 863,1501.9 867.1,1499.2 869.2,1492.2 871.3,1481.2 872.6,1477 874.7,1484 876.8,1486.7 879.5,1485.3 882.3,1481.2 884.4,1482.6 886.5,1485.3 890.6,1482.6 893.4,1477 895.4,1481.2 897.5,1482.6 900.3,1478.4 903,1481.2 905.8,1486.7 908.6,1492.2 911.3,1500.5 912.7,1504.7 914.1,1495 916.8,1486.7 920.3,1481.2 923.8,1481.2 925.8,1486.7 927.9,1489.5 930,1486.7 932,1482.6 934.8,1475.7 936.9,1474.3 939,1481.2 940.3,1486.7 941.7,1478.4 943.8,1468.8 945.9,1463.2 947.9,1459.1 950,1464.6 952.1,1472.9 954.8,1475.7 957.6,1484 961.1,1492.2 964.5,1499.2 967.3,1504.7 970,1510.2 972.8,1508.8 974.9,1503.3 977,1496.4 979,1479.8 981.1,1442.5 983.2,1424.5 984.6,1420.4 986.6,1423.2 988.7,1427.3 989.4,1448 990.8,1493.6 991.5,1493.6 992.8,1475.7 994.9,1459.1 997,1466 999.1,1477 1001.8,1489.5 1003.2,1492.2 1003.2,1494.8 1004.2,1489 1005.6,1472.3 1007.4,1446.9 1009.3,1432.3 1010.4,1433.1 1011.1,1438.2 1013.3,1451.2 1015.4,1452.7 1016.9,1445.4 1018.3,1432.3 1019.8,1424.3 1021.3,1424.3 1022.7,1430.9 1024.9,1432.3 1026.3,1439.6 1027.8,1433.8 1029.6,1429.4 1030.7,1428 1032.2,1425.1 1034.3,1420.7 1036.5,1417.8 1038,1414.9 1039.4,1406.9 1040.9,1402.5 1042.3,1401.8 1043.8,1408.3 1044.5,1421.4 1045.8,1422.2 1045.8,1424.3 1044.9,1424.3 1044.9,1526.8 1044.9,1528.6Z" fill="#62cf50" stroke="#2f9e22" stroke-width="1.8"/>
<g stroke="#000" stroke-width="3.4"><line x1="53.1" x2="53.1" y1="1302" y2="1756.8"/><line x1="51.6" x2="1091.6" y1="1755.3" y2="1755.3"/></g>
<g stroke="#000" stroke-width="1.6"><line x1="45.6" x2="53.1" y1="1323.7" y2="1323.7"/><line x1="45.6" x2="53.1" y1="1375.2" y2="1375.2"/><line x1="45.6" x2="53.1" y1="1426.7" y2="1426.7"/><line x1="45.6" x2="53.1" y1="1478.2" y2="1478.2"/><line x1="45.6" x2="53.1" y1="1529.7" y2="1529.7"/><line x1="45.6" x2="53.1" y1="1581.2" y2="1581.2"/><line x1="45.6" x2="53.1" y1="1632.7" y2="1632.7"/><line x1="45.6" x2="53.1" y1="1684.2" y2="1684.2"/><line x1="45.6" x2="53.1" y1="1735.7" y2="1735.7"/><line x1="292.3" x2="292.3" y1="1755.3" y2="1762.3"/><line x1="669.7" x2="669.7" y1="1755.3" y2="1762.3"/><line x1="1047.5" x2="1047.5" y1="1755.3" y2="1762.3"/></g>
<g class="tk"><text transform="translate(38.8,1332.7) scale(1.15,1)" text-anchor="end">2.0</text><text transform="translate(38.8,1384.2) scale(1.15,1)" text-anchor="end">1.5</text><text transform="translate(38.8,1435.7) scale(1.15,1)" text-anchor="end">1.0</text><text transform="translate(38.8,1487.2) scale(1.15,1)" text-anchor="end">0.5</text><text transform="translate(38.8,1538.7) scale(1.15,1)" text-anchor="end">0.0</text><text transform="translate(38.8,1590.2) scale(1.15,1)" text-anchor="end">-0.5</text><text transform="translate(38.8,1641.7) scale(1.15,1)" text-anchor="end">-1.0</text><text transform="translate(38.8,1693.2) scale(1.15,1)" text-anchor="end">-1.5</text><text transform="translate(38.8,1744.7) scale(1.15,1)" text-anchor="end">-2.0</text><text transform="translate(290.7,1785.2) scale(1.15,1)" text-anchor="middle">2020</text><text transform="translate(668.1,1785.2) scale(1.15,1)" text-anchor="middle">2022</text><text transform="translate(1045.9,1785.2) scale(1.15,1)" text-anchor="middle">2024</text></g>
<text transform="translate(572.5,1812.4) scale(1.15,1)" text-anchor="middle" class="at">Time</text>
<text x="54.8" y="1890" class="ttl">(d) Net pairwise spillover in frequency domain (Sentiment-ESG)</text>
<text x="54.8" y="1936.4" class="ttl">Egypt</text>
<rect x="67" y="1968.3" width="1051.8" height="445.7" fill="#e9e9e9"/>
<g stroke="#fff"><line x1="67" x2="1118.8" y1="2400" y2="2400" stroke-width="2.0"/><line x1="67" x2="1118.8" y1="2379.4" y2="2379.4" stroke-width="1.6"/><line x1="67" x2="1118.8" y1="2358.9" y2="2358.9" stroke-width="2.0"/><line x1="67" x2="1118.8" y1="2338.3" y2="2338.3" stroke-width="1.6"/><line x1="67" x2="1118.8" y1="2317.7" y2="2317.7" stroke-width="2.0"/><line x1="67" x2="1118.8" y1="2297.2" y2="2297.2" stroke-width="1.6"/><line x1="67" x2="1118.8" y1="2276.6" y2="2276.6" stroke-width="2.0"/><line x1="67" x2="1118.8" y1="2256" y2="2256" stroke-width="1.6"/><line x1="67" x2="1118.8" y1="2235.5" y2="2235.5" stroke-width="2.0"/><line x1="67" x2="1118.8" y1="2214.9" y2="2214.9" stroke-width="1.6"/><line x1="67" x2="1118.8" y1="2194.3" y2="2194.3" stroke-width="2.0"/><line x1="67" x2="1118.8" y1="2173.8" y2="2173.8" stroke-width="1.6"/><line x1="67" x2="1118.8" y1="2153.2" y2="2153.2" stroke-width="2.0"/><line x1="67" x2="1118.8" y1="2132.7" y2="2132.7" stroke-width="1.6"/><line x1="67" x2="1118.8" y1="2112.1" y2="2112.1" stroke-width="2.0"/><line x1="67" x2="1118.8" y1="2091.5" y2="2091.5" stroke-width="1.6"/><line x1="67" x2="1118.8" y1="2071" y2="2071" stroke-width="2.0"/><line x1="67" x2="1118.8" y1="2050.4" y2="2050.4" stroke-width="1.6"/><line x1="67" x2="1118.8" y1="2029.8" y2="2029.8" stroke-width="2.0"/><line x1="67" x2="1118.8" y1="2009.3" y2="2009.3" stroke-width="1.6"/><line x1="67" x2="1118.8" y1="1988.7" y2="1988.7" stroke-width="2.0"/><line x1="112.8" x2="112.8" y1="1968.3" y2="2414" stroke-width="1.6"/><line x1="304" x2="304" y1="1968.3" y2="2414" stroke-width="2.0"/><line x1="496.1" x2="496.1" y1="1968.3" y2="2414" stroke-width="1.6"/><line x1="690.4" x2="690.4" y1="1968.3" y2="2414" stroke-width="2.0"/><line x1="882.1" x2="882.1" y1="1968.3" y2="2414" stroke-width="1.6"/><line x1="1074.9" x2="1074.9" y1="1968.3" y2="2414" stroke-width="2.0"/></g>
<path d="M110.4,2192.5L110.4,2192 110.4,2133.2 113.1,2134.6 115.9,2140.1 118.7,2145.7 120.7,2154 122.8,2156.7 125.6,2159.5 128.3,2159.5 129.7,2144.3 131.8,2137.4 135.9,2140.1 140.1,2142.9 142.8,2148.4 145.6,2152.6 149.1,2155.3 152.5,2159.5 156,2165 158,2167.8 160.8,2165 163.6,2156.7 166.3,2155.3 169.1,2152.6 171.8,2149.8 174.6,2147 177.4,2144.3 180.1,2144.3 182.9,2143.6 185,2141.5 186.4,2131.8 187.7,2122.9 189.1,2129.1 191.2,2130.5 192.6,2124.9 194,2119.4 196,2126.3 198.1,2131.8 200.2,2134.6 202.2,2139.4 204.3,2140.1 205.7,2134.6 207.8,2129.1 209.2,2124.9 210.5,2131.8 211.9,2142.9 213.3,2148.4 220.2,2148.4 223.7,2146.4 225,2147 226.4,2154 228.5,2165 230.6,2174.7 232.6,2183 235.4,2184.4 238.2,2181.6 238.9,2192.6 239.6,2212 240.9,2253.4 242.3,2275.5 244.4,2264.5 245.8,2243.8 247.2,2212 247.8,2192 248.5,2181.6 249.9,2169.2 252,2173.3 254.7,2180.2 256.8,2184.4 258.2,2198.2 258.9,2202.3 258.8,2196.9 261.1,2203.8 263.1,2198.2 263.8,2192.7 265.2,2158.2 267.3,2138.8 268.7,2131.9 270.7,2141.6 272.8,2151.3 274.9,2160.9 277.6,2172 279.7,2187.2 283.2,2184.4 287.3,2184.4 289.4,2189.9 291.5,2184.4 294.2,2180.3 297.7,2178.9 300.4,2181.7 302.5,2185.8 304.6,2189.9 305,2205.1 306.6,2205.1 308,2216.2 310.8,2268.7 313.6,2274.2 316.3,2278.4 319.1,2282.5 321.2,2271.5 323.2,2261.8 326,2252.1 328.8,2241.1 331.5,2224.5 334.3,2217.6 337,2214.8 339.8,2213.4 340.5,2192.7 341.2,2185.8 344,2176.1 346,2152.6 348.1,2114 350.2,2089.1 352.9,2068.4 355,2044.9 356.4,2033.8 357.8,2035.2 359.2,2061.5 360.5,2116.7 361.9,2129.2 364,2137.4 365.4,2138.8 366.8,2141.6 368.1,2144.4 369.5,2147.1 372.3,2137.4 375,2127.8 377.8,2116.7 380.6,2108.4 384,2102.9 386.8,2096 389.6,2087.7 393.7,2083.6 397.8,2079.4 400.6,2080.8 403.4,2086.3 406.1,2087.7 406.1,2086.3 409.7,2087.6 412.4,2089 415.2,2094.5 418,2101.5 422.1,2105.6 425.6,2111.1 428.3,2116.6 431.1,2122.2 433.9,2127.7 435.9,2137.4 437.3,2152.6 440.1,2148.4 442.8,2145.7 445.6,2147 448.4,2147 451.8,2144.3 454.6,2145.7 458,2149.8 460.8,2155.3 462.9,2165 464.2,2177.4 465.6,2188.5 467,2192.6 467.7,2198.2 469.1,2207.8 471.8,2218.9 473.9,2210.6 476,2198.2 477.4,2192.6 478.8,2184.4 480.1,2167.8 482.2,2163.6 484.3,2160.9 487,2165 490.5,2166.4 492.6,2162.2 494.6,2156.7 496.7,2155.3 499.5,2155.3 502.2,2152.6 505,2147 508.5,2144.3 511.2,2142.9 514.7,2145.7 517.4,2148.4 520.2,2156.7 522.3,2167.8 524.4,2177.4 526.4,2184.4 527.8,2192.6 528.5,2198.2 529.9,2213.4 532,2205.1 534,2202.3 536.1,2209.2 538.2,2213.4 540.9,2216.1 543.7,2214.7 545.8,2206.5 547.8,2192.6 548.5,2184.4 549.9,2192.6 551.3,2203.7 553.4,2212 556.1,2214.7 558.9,2235.5 558.6,2228.9 560.2,2240.5 562.4,2247.8 564.5,2258 566,2272.5 568.2,2275.4 570.3,2274 572.5,2262.3 574,2262.3 575.4,2272.5 576.9,2298.7 579.1,2301.6 581.2,2310.3 583.4,2323.4 585.6,2337.9 587.1,2324.8 588.5,2319 590.7,2330.6 593.6,2333.6 596.5,2339.4 598.7,2352.4 600.9,2364.1 603.8,2374.2 605.9,2377.1 608.1,2380.1 610.3,2371.3 612.5,2371.3 613.9,2388.8 616.1,2396 617.6,2381.5 619.8,2374.2 621.9,2367 623.4,2359.7 625.6,2330.6 627.7,2319 629.9,2321.9 632.1,2324.8 635.7,2330.6 637.9,2342.3 640.1,2327.7 642.3,2314.7 643.7,2301.6 645.2,2281.2 646.6,2260.9 648.1,2243.5 650.3,2243.5 653.2,2242 656.1,2237.6 658.3,2237.6 659.7,2224.6 661.2,2224.6 663.4,2243.5 666.3,2255.1 668.4,2266.7 670.6,2279.8 672.8,2272.5 675,2269.6 676.4,2281.2 677.9,2287 679.3,2319 681.5,2342.3 683.7,2343.7 685.9,2345.2 688.8,2343.7 690.2,2327.7 691.7,2284.1 693.1,2266.7 695.3,2263.8 698.2,2260.9 701.1,2256.5 703.3,2252.2 704.8,2243.5 706.2,2236.2 707.7,2233.3 707.7,2234.1 709,2234.1 710.4,2253.4 711.7,2267.3 713.8,2270 715.2,2288 716.6,2270 718.7,2267.3 720,2232.7 721.4,2212 722.8,2209.2 726.3,2206.5 728.3,2203.7 729.7,2199.6 731.1,2200.9 733.2,2212 735.9,2216.1 739.4,2218.9 741.5,2220.3 742.8,2212 744.2,2200.9 747,2202.3 749.7,2205.1 753.2,2206.5 756.6,2209.2 759.4,2213.4 762.2,2218.9 763.6,2209.2 764.9,2198.2 766.3,2192.6 769.1,2192.6 771.8,2195.4 775.3,2198.2 777.4,2196.8 780.1,2192.6 781.5,2190.6 782.9,2198.2 784.3,2209.2 785.7,2203.7 787,2192.6 788.4,2189.9 790.5,2180.2 791.9,2170.5 794,2169.2 796.7,2170.5 799.5,2174.7 802.2,2178.8 805,2181.6 807.8,2178.8 810.5,2176.1 813.3,2174.7 815.4,2166.4 817.4,2162.2 820.2,2165 823,2167.8 825,2170.5 827.1,2174.7 829.9,2181.6 832,2192.6 832.6,2198.2 834.7,2199.6 836.1,2198.2 836.8,2181.6 837.5,2167.8 839.6,2163.6 842.3,2156.7 844.4,2148.4 845.8,2149.8 847.2,2165 848.5,2178.8 850.6,2183 853.4,2181.6 856.1,2183 858.9,2184.4 858.8,2184.4 862.4,2180.2 865.9,2178.1 869.3,2180.2 872.1,2183 874.2,2187.1 875.6,2192.6 877.6,2194 883.2,2193.3 886.6,2193.3 888.7,2198.2 889.4,2192.6 890.1,2184.4 891.5,2173.3 893.5,2167.8 895.6,2163.6 897,2170.5 897.7,2174.7 899.1,2181.6 901.1,2187.1 903.2,2188.5 904.6,2178.8 906,2156.7 906.6,2144.3 908,2148.4 909.4,2152.6 910.8,2142.9 912.2,2129.1 913.6,2112.5 915.6,2107 917.7,2102.8 920.5,2101.5 923.2,2099.4 924.6,2107 926.7,2108.4 928.8,2107.7 930.8,2102.8 932.9,2100.1 934.3,2108.4 935.7,2115.3 938.4,2129.1 941.2,2142.9 943.3,2138.8 946,2134.6 949.5,2133.2 952.2,2134.6 955,2140.1 957.8,2142.9 960.5,2145.7 963.3,2148.4 966.1,2148.4 968.1,2142.9 970.2,2137.4 973,2138.8 975.7,2140.1 978.5,2145.7 982,2151.2 985.4,2155.3 988.2,2156.7 990.9,2159.5 993.7,2159.5 995.8,2156.7 997.8,2155.3 1000.6,2154 1003.4,2151.2 1006.1,2148.4 1008.2,2148.4 1010.7,2146.5 1013.2,2143.3 1015.2,2140.7 1016.5,2134.2 1017.8,2122.6 1019.1,2126.5 1021,2134.2 1022.9,2156.2 1024.9,2178.1 1026.2,2191 1027.4,2200.1 1028.7,2193.6 1029.4,2192.3 1031.3,2173 1032.6,2170.4 1034.5,2173 1037.1,2175.6 1038.4,2185.9 1039.7,2192.3 1040.4,2205.3 1042.9,2204 1044.9,2200.1 1046.2,2192.3 1047.5,2178.1 1049.4,2167.8 1051.3,2157.5 1053.3,2148.4 1054.6,2152.3 1055.9,2163.9 1057.1,2178.1 1058.4,2188.5 1057.1,2192.3 1057.1,2228.5 1059.1,2267.2 1061,2286.6 1063.6,2296.9 1066.2,2302.1 1068.1,2315 1069.4,2302.1 1071.3,2299.5 1072,2277.6 1073.3,2277.6 1073.3,2268.5 1071.3,2268.5 1071.3,2192.3 1071.3,2192.5Z" fill="none" stroke="#fff" stroke-width="7" stroke-linejoin="round" opacity="0.85"/><path d="M110.4,2192.5L110.4,2192 110.4,2127.7 112.4,2126.3 115.2,2131.8 118,2136 120.7,2140.1 123.5,2142.9 126.3,2140.1 129,2133.2 132.5,2124.9 135.2,2119.4 138,2124.9 141.5,2127.7 144.2,2131.8 147.7,2138.8 151.1,2142.9 155.3,2147 159.4,2140.1 162.9,2137.4 166.3,2140.1 169.8,2144.3 173.2,2145.7 176,2144.3 178.8,2142.9 181.5,2142.9 184.3,2141.5 187,2137.4 189.8,2127.7 191.9,2120.8 193.7,2113.2 196,2119.4 198.1,2126.3 200.9,2131.8 202.9,2139.4 205,2134.6 207.1,2129.1 208.5,2124.9 210.5,2131.8 212.6,2142.9 216.1,2148.4 220.2,2148.4 223.7,2146.4 225.7,2144.3 227.1,2140.1 229.9,2145.7 232,2154 234,2165 236.1,2176.1 238.2,2181.6 239.6,2192.6 243.7,2192.6 246.5,2181.6 248.5,2170.5 250.6,2137.4 252,2095.9 253.4,2075.2 254.7,2076.6 256.1,2089 257.5,2115.3 258.9,2131.8 258.8,2130.5 261.1,2132.6 263.8,2134.7 266.6,2134.7 268.7,2130.5 271.4,2125 273.5,2114 274.9,2102.9 276.3,2094.6 277.6,2102.9 279,2116.7 281.1,2130.5 283.2,2140.2 285.2,2148.5 287.3,2155.4 289.4,2158.2 291.5,2152.6 294.2,2148.5 297,2145 299.1,2147.1 301.1,2155.4 303.2,2159.6 304.6,2162.3 305.3,2192.7 316.3,2192.7 317.7,2189.9 320.5,2181.7 323.2,2172 325.3,2160.9 327.4,2158.2 330.1,2156.8 332.9,2152.6 334.6,2149.9 336.4,2158.2 337.7,2174.7 339.1,2185.8 340.5,2192.7 340.5,2213.4 341.2,2235.5 341.9,2248 343.3,2241.1 345.3,2225.9 347.4,2223.1 348.4,2223.1 349.5,2282.5 351.6,2303.2 352.9,2329.5 354.3,2324 356.4,2315.7 359.2,2311.5 361.9,2310.2 364,2306 365.4,2254.9 366.8,2232.8 367.4,2192.7 368.8,2192.7 369.5,2219 370.9,2243.8 373,2254.9 375.7,2261.8 378.5,2257.7 382,2253.5 384.7,2246.6 388.2,2239.7 392.3,2241.1 396.5,2243.8 400.6,2248 403.4,2249.4 406.1,2253.5 406.1,2247.9 408.3,2250.7 411.1,2256.2 413.8,2256.2 416.6,2260.3 419.3,2264.5 422.1,2267.3 424.9,2270 427.6,2279.7 429.7,2294.9 431.1,2297.7 433.2,2281.1 435.9,2276.9 438.7,2278.3 441.5,2281.1 444.2,2267.3 447.7,2264.5 449.7,2265.9 452.5,2272.8 454.6,2283.8 456.6,2288 458.7,2275.5 460.8,2270 462.9,2263.1 464.9,2253.4 467,2246.5 469.1,2235.5 470.5,2225.8 472.5,2218.9 474.6,2225.8 476.7,2239.6 478.1,2254.8 480.1,2250.7 482.9,2238.2 485.7,2243.8 488.4,2246.5 491.2,2247.9 494,2252.1 496.7,2259 498.8,2268.6 500.9,2267.3 502.9,2247.9 505,2229.9 507.8,2225.8 509.8,2217.5 511.9,2218.9 514.7,2225.8 516.8,2220.3 518.8,2213.4 520.9,2205.1 523,2198.2 525,2192.6 527.1,2192.6 528.5,2184.4 530.6,2185.7 533.3,2188.5 536.8,2191.3 539.6,2191.3 542.3,2184.4 545.1,2177.4 547.8,2170.5 549.9,2149.8 552,2129.1 554.1,2118 556.1,2087.6 558.2,2073.8 558.6,2069.1 559.4,2056.7 560.9,2066.2 563.1,2077.8 565.3,2098.1 567.4,2102.5 571.1,2103.9 573.3,2118.5 575.4,2141.7 576.9,2170.8 579.1,2172.2 581.2,2159.2 583.4,2141.7 585.6,2130.8 588.5,2135.9 592.1,2134.5 595,2140.3 598,2144.6 600.9,2150.4 603,2163.5 605.2,2181 606.7,2192.6 609.6,2192.6 611.8,2186.8 613.9,2192.6 635.7,2192.6 637.9,2176.6 640.8,2173.7 642.3,2162.1 643.7,2147.5 645.9,2153.4 648.8,2163.5 651.7,2179.5 654.6,2181 657.5,2179.5 659.7,2192.6 688.1,2192.6 690.2,2185.3 692.4,2179.5 694.6,2182.4 696.8,2185.3 699,2192.6 705.5,2192.6 707.7,2185.3 707.7,2192.6 708.3,2187.1 710.4,2192.6 713.1,2188.5 715.2,2183 716.6,2188.5 718,2192.6 733.2,2192.6 734.5,2192 741.5,2192 742.8,2192.6 764.9,2192.6 765.6,2198.2 767.7,2206.5 769.8,2207.8 771.8,2203.7 775.3,2200.9 778.8,2196.8 781.5,2209.2 782.9,2210.6 784.3,2198.2 787,2192.6 788.4,2188.5 789.8,2181.6 792.6,2169.2 795.3,2166.4 798.1,2169.2 801.6,2174.7 803.6,2180.2 806.4,2174.7 809.2,2169.2 811.9,2163.6 814.7,2156.7 816.8,2151.9 818.8,2158.1 821.6,2165 824.4,2167.8 826.4,2170.5 828.5,2177.4 831.3,2184.4 833.3,2187.1 835.4,2191.3 836.1,2192.6 846.5,2192.6 847.2,2212 848.5,2225.8 850.6,2238.2 852,2212 854.1,2212 856.1,2225.8 858.9,2243.8 858.8,2232.7 860.4,2243.8 862.4,2239.6 863.8,2235.5 865.9,2225.8 868,2216.1 870.7,2217.5 873.5,2216.1 876.9,2217.5 879,2212 881.8,2206.5 883.9,2200.9 885.9,2209.2 887.3,2213.4 888.7,2198.2 889.4,2192.6 897,2192.6 897.7,2170.5 899.7,2165 901.8,2159.5 903.2,2170.5 904.6,2187.1 905.3,2192.6 908,2192.6 910.8,2196.1 913.6,2194 916.3,2192.6 932.9,2192.6 934.3,2112.5 937,2109.7 939.1,2108.4 941.2,2120.8 943.3,2126.3 946.7,2127.7 950.2,2126.3 952.9,2129.1 955.7,2133.2 958.5,2137.4 961.2,2141.5 964.7,2145.7 966.8,2142.9 968.8,2134.6 971.6,2126.3 975,2119.4 977.8,2124.9 980.6,2127.7 983.3,2133.2 986.1,2138.8 988.9,2144.3 991.6,2148.4 994.4,2145.7 997.2,2138.8 999.9,2137.4 1002.7,2140.1 1005.4,2144.3 1008.2,2148.4 1008.2,2144.6 1010.7,2143.3 1013.2,2140.7 1015.8,2138.1 1017.8,2134.2 1019.7,2142 1022.3,2157.5 1024.2,2178.1 1025.5,2192.3 1025.5,2228.5 1026.8,2229.8 1027.4,2264.6 1028.1,2228.5 1029.4,2222 1030,2183.3 1031.3,2170.4 1032.6,2167.8 1034.5,2173 1034.5,2192.3 1034.5,2219.5 1035.8,2260.8 1037.8,2293.1 1039.7,2325.3 1041.6,2364.1 1043.6,2393.8 1044.9,2393.8 1045.5,2338.2 1046.8,2312.4 1048.8,2286.6 1049.4,2247.9 1050.7,2224.6 1053.3,2222 1054.6,2209.1 1055.9,2193.6 1056.5,2192.3 1066.2,2192.3 1066.8,2174.3 1068.1,2152.3 1069.4,2157.5 1070.7,2162.6 1072.6,2174.3 1073.3,2178.1 1071.3,2178.1 1071.3,2192.3 1071.3,2192.5Z" fill="none" stroke="#fff" stroke-width="7" stroke-linejoin="round" opacity="0.85"/><path d="M110.4,2192.5L110.4,2192 110.4,2127.7 112.4,2126.3 115.2,2131.8 118,2136 120.7,2140.1 123.5,2142.9 126.3,2140.1 129,2133.2 132.5,2124.9 135.2,2119.4 138,2124.9 141.5,2127.7 144.2,2131.8 147.7,2138.8 151.1,2142.9 155.3,2147 159.4,2140.1 162.9,2137.4 166.3,2140.1 169.8,2144.3 173.2,2145.7 176,2144.3 178.8,2142.9 181.5,2142.9 184.3,2141.5 187,2137.4 189.8,2127.7 191.9,2120.8 193.7,2113.2 196,2119.4 198.1,2126.3 200.9,2131.8 202.9,2139.4 205,2134.6 207.1,2129.1 208.5,2124.9 210.5,2131.8 212.6,2142.9 216.1,2148.4 220.2,2148.4 223.7,2146.4 225.7,2144.3 227.1,2140.1 229.9,2145.7 232,2154 234,2165 236.1,2176.1 238.2,2181.6 239.6,2192.6 243.7,2192.6 246.5,2181.6 248.5,2170.5 250.6,2137.4 252,2095.9 253.4,2075.2 254.7,2076.6 256.1,2089 257.5,2115.3 258.9,2131.8 258.8,2130.5 261.1,2132.6 263.8,2134.7 266.6,2134.7 268.7,2130.5 271.4,2125 273.5,2114 274.9,2102.9 276.3,2094.6 277.6,2102.9 279,2116.7 281.1,2130.5 283.2,2140.2 285.2,2148.5 287.3,2155.4 289.4,2158.2 291.5,2152.6 294.2,2148.5 297,2145 299.1,2147.1 301.1,2155.4 303.2,2159.6 304.6,2162.3 305.3,2192.7 316.3,2192.7 317.7,2189.9 320.5,2181.7 323.2,2172 325.3,2160.9 327.4,2158.2 330.1,2156.8 332.9,2152.6 334.6,2149.9 336.4,2158.2 337.7,2174.7 339.1,2185.8 340.5,2192.7 340.5,2213.4 341.2,2235.5 341.9,2248 343.3,2241.1 345.3,2225.9 347.4,2223.1 348.4,2223.1 349.5,2282.5 351.6,2303.2 352.9,2329.5 354.3,2324 356.4,2315.7 359.2,2311.5 361.9,2310.2 364,2306 365.4,2254.9 366.8,2232.8 367.4,2192.7 368.8,2192.7 369.5,2219 370.9,2243.8 373,2254.9 375.7,2261.8 378.5,2257.7 382,2253.5 384.7,2246.6 388.2,2239.7 392.3,2241.1 396.5,2243.8 400.6,2248 403.4,2249.4 406.1,2253.5 406.1,2247.9 408.3,2250.7 411.1,2256.2 413.8,2256.2 416.6,2260.3 419.3,2264.5 422.1,2267.3 424.9,2270 427.6,2279.7 429.7,2294.9 431.1,2297.7 433.2,2281.1 435.9,2276.9 438.7,2278.3 441.5,2281.1 444.2,2267.3 447.7,2264.5 449.7,2265.9 452.5,2272.8 454.6,2283.8 456.6,2288 458.7,2275.5 460.8,2270 462.9,2263.1 464.9,2253.4 467,2246.5 469.1,2235.5 470.5,2225.8 472.5,2218.9 474.6,2225.8 476.7,2239.6 478.1,2254.8 480.1,2250.7 482.9,2238.2 485.7,2243.8 488.4,2246.5 491.2,2247.9 494,2252.1 496.7,2259 498.8,2268.6 500.9,2267.3 502.9,2247.9 505,2229.9 507.8,2225.8 509.8,2217.5 511.9,2218.9 514.7,2225.8 516.8,2220.3 518.8,2213.4 520.9,2205.1 523,2198.2 525,2192.6 527.1,2192.6 528.5,2184.4 530.6,2185.7 533.3,2188.5 536.8,2191.3 539.6,2191.3 542.3,2184.4 545.1,2177.4 547.8,2170.5 549.9,2149.8 552,2129.1 554.1,2118 556.1,2087.6 558.2,2073.8 558.6,2069.1 559.4,2056.7 560.9,2066.2 563.1,2077.8 565.3,2098.1 567.4,2102.5 571.1,2103.9 573.3,2118.5 575.4,2141.7 576.9,2170.8 579.1,2172.2 581.2,2159.2 583.4,2141.7 585.6,2130.8 588.5,2135.9 592.1,2134.5 595,2140.3 598,2144.6 600.9,2150.4 603,2163.5 605.2,2181 606.7,2192.6 609.6,2192.6 611.8,2186.8 613.9,2192.6 635.7,2192.6 637.9,2176.6 640.8,2173.7 642.3,2162.1 643.7,2147.5 645.9,2153.4 648.8,2163.5 651.7,2179.5 654.6,2181 657.5,2179.5 659.7,2192.6 688.1,2192.6 690.2,2185.3 692.4,2179.5 694.6,2182.4 696.8,2185.3 699,2192.6 705.5,2192.6 707.7,2185.3 707.7,2192.6 708.3,2187.1 710.4,2192.6 713.1,2188.5 715.2,2183 716.6,2188.5 718,2192.6 733.2,2192.6 734.5,2192 741.5,2192 742.8,2192.6 764.9,2192.6 765.6,2198.2 767.7,2206.5 769.8,2207.8 771.8,2203.7 775.3,2200.9 778.8,2196.8 781.5,2209.2 782.9,2210.6 784.3,2198.2 787,2192.6 788.4,2188.5 789.8,2181.6 792.6,2169.2 795.3,2166.4 798.1,2169.2 801.6,2174.7 803.6,2180.2 806.4,2174.7 809.2,2169.2 811.9,2163.6 814.7,2156.7 816.8,2151.9 818.8,2158.1 821.6,2165 824.4,2167.8 826.4,2170.5 828.5,2177.4 831.3,2184.4 833.3,2187.1 835.4,2191.3 836.1,2192.6 846.5,2192.6 847.2,2212 848.5,2225.8 850.6,2238.2 852,2212 854.1,2212 856.1,2225.8 858.9,2243.8 858.8,2232.7 860.4,2243.8 862.4,2239.6 863.8,2235.5 865.9,2225.8 868,2216.1 870.7,2217.5 873.5,2216.1 876.9,2217.5 879,2212 881.8,2206.5 883.9,2200.9 885.9,2209.2 887.3,2213.4 888.7,2198.2 889.4,2192.6 897,2192.6 897.7,2170.5 899.7,2165 901.8,2159.5 903.2,2170.5 904.6,2187.1 905.3,2192.6 908,2192.6 910.8,2196.1 913.6,2194 916.3,2192.6 932.9,2192.6 934.3,2112.5 937,2109.7 939.1,2108.4 941.2,2120.8 943.3,2126.3 946.7,2127.7 950.2,2126.3 952.9,2129.1 955.7,2133.2 958.5,2137.4 961.2,2141.5 964.7,2145.7 966.8,2142.9 968.8,2134.6 971.6,2126.3 975,2119.4 977.8,2124.9 980.6,2127.7 983.3,2133.2 986.1,2138.8 988.9,2144.3 991.6,2148.4 994.4,2145.7 997.2,2138.8 999.9,2137.4 1002.7,2140.1 1005.4,2144.3 1008.2,2148.4 1008.2,2144.6 1010.7,2143.3 1013.2,2140.7 1015.8,2138.1 1017.8,2134.2 1019.7,2142 1022.3,2157.5 1024.2,2178.1 1025.5,2192.3 1025.5,2228.5 1026.8,2229.8 1027.4,2264.6 1028.1,2228.5 1029.4,2222 1030,2183.3 1031.3,2170.4 1032.6,2167.8 1034.5,2173 1034.5,2192.3 1034.5,2219.5 1035.8,2260.8 1037.8,2293.1 1039.7,2325.3 1041.6,2364.1 1043.6,2393.8 1044.9,2393.8 1045.5,2338.2 1046.8,2312.4 1048.8,2286.6 1049.4,2247.9 1050.7,2224.6 1053.3,2222 1054.6,2209.1 1055.9,2193.6 1056.5,2192.3 1066.2,2192.3 1066.8,2174.3 1068.1,2152.3 1069.4,2157.5 1070.7,2162.6 1072.6,2174.3 1073.3,2178.1 1071.3,2178.1 1071.3,2192.3 1071.3,2192.5Z" fill="#62cf50" stroke="#2f9e22" stroke-width="1.8"/><path d="M110.4,2192.5L110.4,2192 110.4,2133.2 113.1,2134.6 115.9,2140.1 118.7,2145.7 120.7,2154 122.8,2156.7 125.6,2159.5 128.3,2159.5 129.7,2144.3 131.8,2137.4 135.9,2140.1 140.1,2142.9 142.8,2148.4 145.6,2152.6 149.1,2155.3 152.5,2159.5 156,2165 158,2167.8 160.8,2165 163.6,2156.7 166.3,2155.3 169.1,2152.6 171.8,2149.8 174.6,2147 177.4,2144.3 180.1,2144.3 182.9,2143.6 185,2141.5 186.4,2131.8 187.7,2122.9 189.1,2129.1 191.2,2130.5 192.6,2124.9 194,2119.4 196,2126.3 198.1,2131.8 200.2,2134.6 202.2,2139.4 204.3,2140.1 205.7,2134.6 207.8,2129.1 209.2,2124.9 210.5,2131.8 211.9,2142.9 213.3,2148.4 220.2,2148.4 223.7,2146.4 225,2147 226.4,2154 228.5,2165 230.6,2174.7 232.6,2183 235.4,2184.4 238.2,2181.6 238.9,2192.6 239.6,2212 240.9,2253.4 242.3,2275.5 244.4,2264.5 245.8,2243.8 247.2,2212 247.8,2192 248.5,2181.6 249.9,2169.2 252,2173.3 254.7,2180.2 256.8,2184.4 258.2,2198.2 258.9,2202.3 258.8,2196.9 261.1,2203.8 263.1,2198.2 263.8,2192.7 265.2,2158.2 267.3,2138.8 268.7,2131.9 270.7,2141.6 272.8,2151.3 274.9,2160.9 277.6,2172 279.7,2187.2 283.2,2184.4 287.3,2184.4 289.4,2189.9 291.5,2184.4 294.2,2180.3 297.7,2178.9 300.4,2181.7 302.5,2185.8 304.6,2189.9 305,2205.1 306.6,2205.1 308,2216.2 310.8,2268.7 313.6,2274.2 316.3,2278.4 319.1,2282.5 321.2,2271.5 323.2,2261.8 326,2252.1 328.8,2241.1 331.5,2224.5 334.3,2217.6 337,2214.8 339.8,2213.4 340.5,2192.7 341.2,2185.8 344,2176.1 346,2152.6 348.1,2114 350.2,2089.1 352.9,2068.4 355,2044.9 356.4,2033.8 357.8,2035.2 359.2,2061.5 360.5,2116.7 361.9,2129.2 364,2137.4 365.4,2138.8 366.8,2141.6 368.1,2144.4 369.5,2147.1 372.3,2137.4 375,2127.8 377.8,2116.7 380.6,2108.4 384,2102.9 386.8,2096 389.6,2087.7 393.7,2083.6 397.8,2079.4 400.6,2080.8 403.4,2086.3 406.1,2087.7 406.1,2086.3 409.7,2087.6 412.4,2089 415.2,2094.5 418,2101.5 422.1,2105.6 425.6,2111.1 428.3,2116.6 431.1,2122.2 433.9,2127.7 435.9,2137.4 437.3,2152.6 440.1,2148.4 442.8,2145.7 445.6,2147 448.4,2147 451.8,2144.3 454.6,2145.7 458,2149.8 460.8,2155.3 462.9,2165 464.2,2177.4 465.6,2188.5 467,2192.6 467.7,2198.2 469.1,2207.8 471.8,2218.9 473.9,2210.6 476,2198.2 477.4,2192.6 478.8,2184.4 480.1,2167.8 482.2,2163.6 484.3,2160.9 487,2165 490.5,2166.4 492.6,2162.2 494.6,2156.7 496.7,2155.3 499.5,2155.3 502.2,2152.6 505,2147 508.5,2144.3 511.2,2142.9 514.7,2145.7 517.4,2148.4 520.2,2156.7 522.3,2167.8 524.4,2177.4 526.4,2184.4 527.8,2192.6 528.5,2198.2 529.9,2213.4 532,2205.1 534,2202.3 536.1,2209.2 538.2,2213.4 540.9,2216.1 543.7,2214.7 545.8,2206.5 547.8,2192.6 548.5,2184.4 549.9,2192.6 551.3,2203.7 553.4,2212 556.1,2214.7 558.9,2235.5 558.6,2228.9 560.2,2240.5 562.4,2247.8 564.5,2258 566,2272.5 568.2,2275.4 570.3,2274 572.5,2262.3 574,2262.3 575.4,2272.5 576.9,2298.7 579.1,2301.6 581.2,2310.3 583.4,2323.4 585.6,2337.9 587.1,2324.8 588.5,2319 590.7,2330.6 593.6,2333.6 596.5,2339.4 598.7,2352.4 600.9,2364.1 603.8,2374.2 605.9,2377.1 608.1,2380.1 610.3,2371.3 612.5,2371.3 613.9,2388.8 616.1,2396 617.6,2381.5 619.8,2374.2 621.9,2367 623.4,2359.7 625.6,2330.6 627.7,2319 629.9,2321.9 632.1,2324.8 635.7,2330.6 637.9,2342.3 640.1,2327.7 642.3,2314.7 643.7,2301.6 645.2,2281.2 646.6,2260.9 648.1,2243.5 650.3,2243.5 653.2,2242 656.1,2237.6 658.3,2237.6 659.7,2224.6 661.2,2224.6 663.4,2243.5 666.3,2255.1 668.4,2266.7 670.6,2279.8 672.8,2272.5 675,2269.6 676.4,2281.2 677.9,2287 679.3,2319 681.5,2342.3 683.7,2343.7 685.9,2345.2 688.8,2343.7 690.2,2327.7 691.7,2284.1 693.1,2266.7 695.3,2263.8 698.2,2260.9 701.1,2256.5 703.3,2252.2 704.8,2243.5 706.2,2236.2 707.7,2233.3 707.7,2234.1 709,2234.1 710.4,2253.4 711.7,2267.3 713.8,2270 715.2,2288 716.6,2270 718.7,2267.3 720,2232.7 721.4,2212 722.8,2209.2 726.3,2206.5 728.3,2203.7 729.7,2199.6 731.1,2200.9 733.2,2212 735.9,2216.1 739.4,2218.9 741.5,2220.3 742.8,2212 744.2,2200.9 747,2202.3 749.7,2205.1 753.2,2206.5 756.6,2209.2 759.4,2213.4 762.2,2218.9 763.6,2209.2 764.9,2198.2 766.3,2192.6 769.1,2192.6 771.8,2195.4 775.3,2198.2 777.4,2196.8 780.1,2192.6 781.5,2190.6 782.9,2198.2 784.3,2209.2 785.7,2203.7 787,2192.6 788.4,2189.9 790.5,2180.2 791.9,2170.5 794,2169.2 796.7,2170.5 799.5,2174.7 802.2,2178.8 805,2181.6 807.8,2178.8 810.5,2176.1 813.3,2174.7 815.4,2166.4 817.4,2162.2 820.2,2165 823,2167.8 825,2170.5 827.1,2174.7 829.9,2181.6 832,2192.6 832.6,2198.2 834.7,2199.6 836.1,2198.2 836.8,2181.6 837.5,2167.8 839.6,2163.6 842.3,2156.7 844.4,2148.4 845.8,2149.8 847.2,2165 848.5,2178.8 850.6,2183 853.4,2181.6 856.1,2183 858.9,2184.4 858.8,2184.4 862.4,2180.2 865.9,2178.1 869.3,2180.2 872.1,2183 874.2,2187.1 875.6,2192.6 877.6,2194 883.2,2193.3 886.6,2193.3 888.7,2198.2 889.4,2192.6 890.1,2184.4 891.5,2173.3 893.5,2167.8 895.6,2163.6 897,2170.5 897.7,2174.7 899.1,2181.6 901.1,2187.1 903.2,2188.5 904.6,2178.8 906,2156.7 906.6,2144.3 908,2148.4 909.4,2152.6 910.8,2142.9 912.2,2129.1 913.6,2112.5 915.6,2107 917.7,2102.8 920.5,2101.5 923.2,2099.4 924.6,2107 926.7,2108.4 928.8,2107.7 930.8,2102.8 932.9,2100.1 934.3,2108.4 935.7,2115.3 938.4,2129.1 941.2,2142.9 943.3,2138.8 946,2134.6 949.5,2133.2 952.2,2134.6 955,2140.1 957.8,2142.9 960.5,2145.7 963.3,2148.4 966.1,2148.4 968.1,2142.9 970.2,2137.4 973,2138.8 975.7,2140.1 978.5,2145.7 982,2151.2 985.4,2155.3 988.2,2156.7 990.9,2159.5 993.7,2159.5 995.8,2156.7 997.8,2155.3 1000.6,2154 1003.4,2151.2 1006.1,2148.4 1008.2,2148.4 1010.7,2146.5 1013.2,2143.3 1015.2,2140.7 1016.5,2134.2 1017.8,2122.6 1019.1,2126.5 1021,2134.2 1022.9,2156.2 1024.9,2178.1 1026.2,2191 1027.4,2200.1 1028.7,2193.6 1029.4,2192.3 1031.3,2173 1032.6,2170.4 1034.5,2173 1037.1,2175.6 1038.4,2185.9 1039.7,2192.3 1040.4,2205.3 1042.9,2204 1044.9,2200.1 1046.2,2192.3 1047.5,2178.1 1049.4,2167.8 1051.3,2157.5 1053.3,2148.4 1054.6,2152.3 1055.9,2163.9 1057.1,2178.1 1058.4,2188.5 1057.1,2192.3 1057.1,2228.5 1059.1,2267.2 1061,2286.6 1063.6,2296.9 1066.2,2302.1 1068.1,2315 1069.4,2302.1 1071.3,2299.5 1072,2277.6 1073.3,2277.6 1073.3,2268.5 1071.3,2268.5 1071.3,2192.3 1071.3,2192.5Z" fill="#2196e3" stroke="#0b5cb5" stroke-width="1.8"/>
<g stroke="#000" stroke-width="3.4"><line x1="61.2" x2="61.2" y1="1968.3" y2="2421.7"/><line x1="59.7" x2="1118.8" y1="2420.2" y2="2420.2"/></g>
<g stroke="#000" stroke-width="1.6"><line x1="53.7" x2="61.2" y1="1988.7" y2="1988.7"/><line x1="53.7" x2="61.2" y1="2029.8" y2="2029.8"/><line x1="53.7" x2="61.2" y1="2071" y2="2071"/><line x1="53.7" x2="61.2" y1="2112.1" y2="2112.1"/><line x1="53.7" x2="61.2" y1="2153.2" y2="2153.2"/><line x1="53.7" x2="61.2" y1="2194.3" y2="2194.3"/><line x1="53.7" x2="61.2" y1="2235.5" y2="2235.5"/><line x1="53.7" x2="61.2" y1="2276.6" y2="2276.6"/><line x1="53.7" x2="61.2" y1="2317.7" y2="2317.7"/><line x1="53.7" x2="61.2" y1="2358.9" y2="2358.9"/><line x1="53.7" x2="61.2" y1="2400" y2="2400"/><line x1="304" x2="304" y1="2420.2" y2="2427.2"/><line x1="690.4" x2="690.4" y1="2420.2" y2="2427.2"/><line x1="1074.9" x2="1074.9" y1="2420.2" y2="2427.2"/></g>
<g class="tk"><text transform="translate(47.5,1997.7) scale(1.15,1)" text-anchor="end">5</text><text transform="translate(47.5,2038.8) scale(1.15,1)" text-anchor="end">4</text><text transform="translate(47.5,2080) scale(1.15,1)" text-anchor="end">3</text><text transform="translate(47.5,2121.1) scale(1.15,1)" text-anchor="end">2</text><text transform="translate(47.5,2162.2) scale(1.15,1)" text-anchor="end">1</text><text transform="translate(47.5,2203.3) scale(1.15,1)" text-anchor="end">0</text><text transform="translate(47.5,2244.5) scale(1.15,1)" text-anchor="end">-1</text><text transform="translate(47.5,2285.6) scale(1.15,1)" text-anchor="end">-2</text><text transform="translate(47.5,2326.7) scale(1.15,1)" text-anchor="end">-3</text><text transform="translate(47.5,2367.9) scale(1.15,1)" text-anchor="end">-4</text><text transform="translate(47.5,2409) scale(1.15,1)" text-anchor="end">-5</text><text transform="translate(302.4,2449.5) scale(1.15,1)" text-anchor="middle">2020</text><text transform="translate(688.8,2449.5) scale(1.15,1)" text-anchor="middle">2022</text><text transform="translate(1073.3,2449.5) scale(1.15,1)" text-anchor="middle">2024</text></g>
<text transform="translate(590.4,2476) scale(1.15,1)" text-anchor="middle" class="at">Time</text>
</svg>
</body></html>
